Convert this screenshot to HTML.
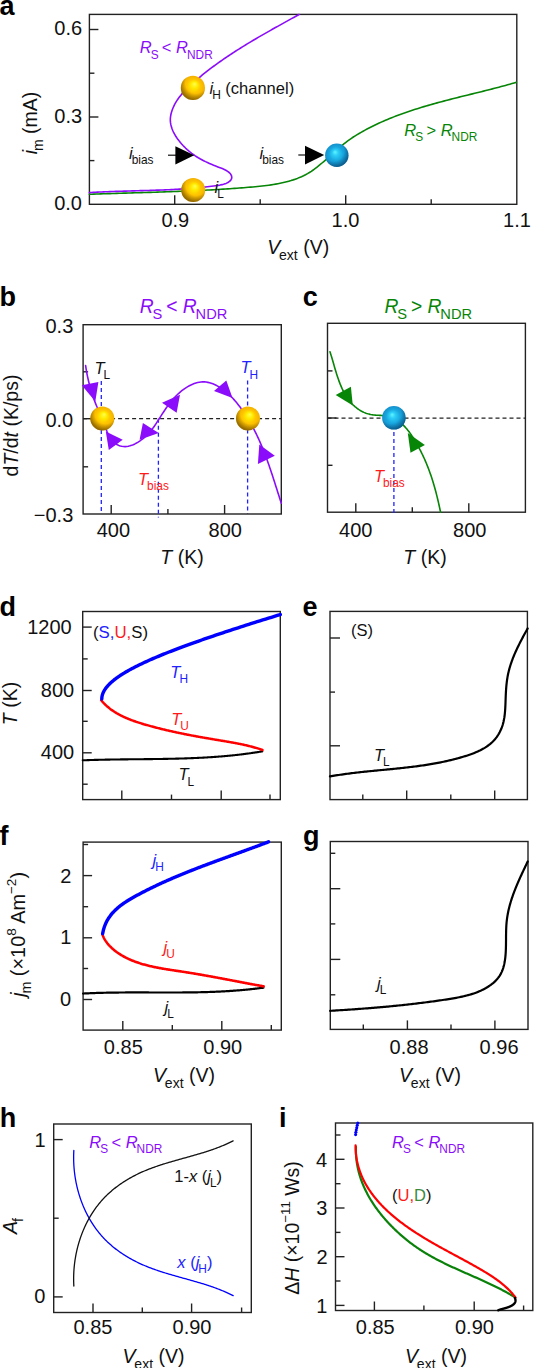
<!DOCTYPE html>
<html><head><meta charset="utf-8"><style>
html,body{margin:0;padding:0;background:#fff;}
svg{display:block;}
text{font-family:"Liberation Sans", sans-serif;}
</style></head><body>
<svg width="534" height="1368" viewBox="0 0 534 1368" font-family='"Liberation Sans", sans-serif'>
<rect width="534" height="1368" fill="#fff"/>
<defs>
<radialGradient id="gy" cx="0.5" cy="0.5" r="0.5" fx="0.58" fy="0.33">
<stop offset="0" stop-color="#ffff50"/>
<stop offset="0.28" stop-color="#ffea00"/>
<stop offset="0.55" stop-color="#ffc600"/>
<stop offset="1" stop-color="#f2b000"/>
</radialGradient>
<radialGradient id="gys" cx="0.62" cy="0.3" r="0.85">
<stop offset="0" stop-color="#3c2800" stop-opacity="0"/>
<stop offset="0.5" stop-color="#3c2800" stop-opacity="0"/>
<stop offset="0.8" stop-color="#3c2800" stop-opacity="0.5"/>
<stop offset="0.92" stop-color="#3c2800" stop-opacity="0.58"/>
<stop offset="1" stop-color="#3c2800" stop-opacity="0.35"/>
</radialGradient>
<radialGradient id="gb" cx="0.5" cy="0.5" r="0.5" fx="0.42" fy="0.36">
<stop offset="0" stop-color="#60f6ff"/>
<stop offset="0.25" stop-color="#2ccdf6"/>
<stop offset="0.6" stop-color="#18a6de"/>
<stop offset="1" stop-color="#1490cc"/>
</radialGradient>
<radialGradient id="gbs" cx="0.38" cy="0.32" r="0.85">
<stop offset="0" stop-color="#001838" stop-opacity="0"/>
<stop offset="0.5" stop-color="#001838" stop-opacity="0"/>
<stop offset="0.78" stop-color="#001838" stop-opacity="0.4"/>
<stop offset="1" stop-color="#001838" stop-opacity="0.55"/>
</radialGradient>
</defs>
<text x="-0.50" y="15.40" font-size="27.00" text-anchor="start" fill="#000" font-weight="bold" font-style="normal" >a</text>
<rect x="89.40" y="14.40" width="427.40" height="189.90" fill="none" stroke="#222" stroke-width="1.40"/>
<line x1="89.40" y1="29.50" x2="98.40" y2="29.50" stroke="#222" stroke-width="1.40"/>
<line x1="89.40" y1="73.20" x2="94.40" y2="73.20" stroke="#222" stroke-width="1.40"/>
<line x1="89.40" y1="117.00" x2="98.40" y2="117.00" stroke="#222" stroke-width="1.40"/>
<line x1="89.40" y1="160.60" x2="94.40" y2="160.60" stroke="#222" stroke-width="1.40"/>
<line x1="174.70" y1="204.30" x2="174.70" y2="195.30" stroke="#222" stroke-width="1.40"/>
<line x1="260.20" y1="204.30" x2="260.20" y2="199.30" stroke="#222" stroke-width="1.40"/>
<line x1="345.70" y1="204.30" x2="345.70" y2="195.30" stroke="#222" stroke-width="1.40"/>
<line x1="431.20" y1="204.30" x2="431.20" y2="199.30" stroke="#222" stroke-width="1.40"/>
<text x="54.28" y="35.38" font-size="20.00" text-anchor="start" fill="#111" font-weight="normal" font-style="normal" >0.6</text>
<text x="54.28" y="122.68" font-size="20.00" text-anchor="start" fill="#111" font-weight="normal" font-style="normal" >0.3</text>
<text x="54.18" y="209.73" font-size="20.00" text-anchor="start" fill="#111" font-weight="normal" font-style="normal" >0.0</text>
<text x="161.43" y="226.68" font-size="20.00" text-anchor="start" fill="#111" font-weight="normal" font-style="normal" >0.9</text>
<text x="331.53" y="226.68" font-size="20.00" text-anchor="start" fill="#111" font-weight="normal" font-style="normal" >1.0</text>
<text x="503.08" y="226.68" font-size="20.00" text-anchor="start" fill="#111" font-weight="normal" font-style="normal" >1.1</text>
<text x="267.20" y="253.70" font-size="19.50" fill="#111" text-anchor="start" ><tspan font-style="italic">V</tspan><tspan dx="-1.17" dy="6.04" font-size="14.04">ext</tspan><tspan dy="-6.04"> (V)</tspan></text>
<text x="0.00" y="0.00" font-size="19.50" fill="#111" text-anchor="middle" transform="translate(36.5,123) rotate(-90)"><tspan font-style="italic">i</tspan><tspan dx="-1.17" dy="6.04" font-size="14.04">m</tspan><tspan dy="-6.04"> (mA)</tspan></text>
<path d="M89.37,194.31 L91.65,194.22 L93.94,194.14 L96.23,194.06 L98.51,193.98 L100.79,193.90 L103.07,193.82 L105.35,193.74 L107.63,193.67 L109.91,193.59 L112.18,193.52 L114.46,193.45 L116.73,193.38 L119.01,193.31 L121.28,193.24 L123.55,193.17 L125.82,193.10 L128.09,193.03 L130.36,192.96 L132.63,192.89 L134.89,192.82 L137.16,192.76 L139.43,192.69 L141.69,192.62 L143.96,192.55 L146.22,192.48 L148.49,192.41 L150.75,192.34 L153.01,192.27 L155.28,192.19 L157.54,192.12 L159.80,192.05 L162.06,191.97 L164.33,191.89 L166.59,191.81 L168.85,191.73 L171.11,191.65 L173.37,191.57 L175.64,191.49 L177.90,191.40 L180.16,191.31 L182.42,191.22 L184.69,191.13 L186.95,191.04 L189.21,190.94 L191.48,190.84 L193.74,190.74 L196.01,190.63 L198.27,190.53 L200.54,190.42 L202.80,190.31 L205.07,190.19 L207.34,190.07 L209.60,189.95 L211.87,189.83 L214.14,189.70 L216.41,189.57 L218.68,189.43 L220.96,189.30 L223.23,189.15 L225.50,189.01 L227.78,188.86 L230.06,188.71 L232.33,188.55 L234.61,188.39 L236.89,188.22 L239.17,188.05 L241.45,187.88 L243.74,187.70 L246.02,187.51 L248.31,187.32 L250.60,187.13 L252.89,186.93 L255.18,186.72 L257.47,186.51 L259.75,186.28 L262.04,186.04 L264.32,185.78 L266.59,185.50 L268.86,185.20 L271.12,184.88 L273.38,184.53 L275.62,184.15 L277.86,183.75 L280.08,183.31 L282.30,182.84 L284.49,182.33 L286.68,181.78 L288.85,181.19 L291.00,180.56 L293.14,179.88 L295.26,179.15 L297.36,178.38 L299.44,177.55 L301.49,176.67 L303.53,175.72 L305.53,174.72 L307.50,173.65 L309.43,172.52 L311.32,171.31 L313.17,170.03 L314.98,168.69 L316.77,167.31 L318.53,165.90 L320.28,164.46 L322.02,163.01 L323.75,161.54 L325.47,160.07 L327.19,158.59 L328.90,157.10 L330.60,155.60 L332.29,154.10 L333.99,152.59 L335.67,151.08 L337.36,149.58 L339.04,148.08 L340.73,146.58 L342.44,145.12 L344.18,143.67 L345.94,142.27 L347.74,140.90 L349.57,139.58 L351.43,138.29 L353.32,137.04 L355.23,135.81 L357.17,134.62 L359.12,133.46 L361.09,132.32 L363.06,131.21 L365.05,130.12 L367.05,129.05 L369.06,128.00 L371.07,126.97 L373.10,125.96 L375.13,124.97 L377.18,124.00 L379.23,123.04 L381.29,122.11 L383.36,121.19 L385.44,120.30 L387.52,119.42 L389.61,118.55 L391.71,117.70 L393.82,116.87 L395.93,116.05 L398.05,115.25 L400.17,114.46 L402.30,113.69 L404.44,112.93 L406.59,112.18 L408.73,111.45 L410.89,110.73 L413.05,110.02 L415.21,109.32 L417.38,108.64 L419.55,107.96 L421.73,107.30 L423.91,106.64 L426.10,105.99 L428.29,105.36 L430.48,104.73 L432.67,104.11 L434.87,103.49 L437.07,102.89 L439.27,102.29 L441.48,101.70 L443.69,101.11 L445.90,100.53 L448.11,99.96 L450.32,99.39 L452.53,98.82 L454.75,98.26 L456.96,97.70 L459.18,97.14 L461.39,96.59 L463.61,96.04 L465.83,95.49 L468.04,94.94 L470.26,94.39 L472.47,93.85 L474.68,93.30 L476.90,92.75 L479.11,92.20 L481.32,91.66 L483.52,91.11 L485.73,90.55 L487.93,90.00 L490.13,89.44 L492.33,88.88 L494.53,88.31 L496.72,87.74 L498.91,87.17 L501.09,86.59 L503.27,86.00 L505.45,85.41 L507.62,84.82 L509.79,84.21 L511.96,83.60 L514.11,82.98 L516.27,82.36" fill="none" stroke="#078507" stroke-width="1.60" stroke-linecap="round" stroke-linejoin="round" />
<path d="M89.41,192.61 L91.42,192.49 L93.43,192.37 L95.45,192.26 L97.47,192.16 L99.50,192.06 L101.53,191.96 L103.56,191.87 L105.59,191.78 L107.63,191.70 L109.66,191.62 L111.70,191.54 L113.75,191.47 L115.79,191.40 L117.84,191.33 L119.88,191.26 L121.93,191.20 L123.98,191.14 L126.03,191.08 L128.08,191.02 L130.14,190.96 L132.19,190.90 L134.24,190.84 L136.30,190.78 L138.35,190.73 L140.41,190.67 L142.46,190.61 L144.51,190.55 L146.57,190.49 L148.62,190.43 L150.67,190.37 L152.72,190.30 L154.77,190.23 L156.82,190.16 L158.86,190.09 L160.91,190.01 L162.95,189.93 L164.99,189.85 L167.03,189.77 L169.07,189.68 L171.10,189.58 L173.13,189.48 L175.16,189.38 L177.19,189.27 L179.21,189.15 L181.23,189.03 L183.25,188.91 L185.26,188.78 L187.27,188.64 L189.28,188.49 L191.28,188.34 L193.28,188.18 L195.27,188.01 L197.26,187.84 L199.26,187.65 L201.26,187.46 L203.27,187.26 L205.30,187.04 L207.33,186.81 L209.39,186.57 L211.47,186.31 L213.57,186.04 L215.70,185.76 L217.85,185.45 L220.00,185.09 L222.12,184.65 L224.17,184.09 L226.11,183.38 L227.91,182.48 L229.52,181.37 L230.80,180.07 L231.60,178.63 L231.78,177.07 L231.41,175.51 L230.60,174.06 L229.44,172.75 L227.96,171.57 L226.24,170.50 L224.32,169.51 L222.25,168.59 L220.09,167.72 L217.88,166.88 L215.69,166.04 L213.55,165.19 L211.46,164.33 L209.43,163.46 L207.44,162.56 L205.51,161.65 L203.63,160.71 L201.80,159.75 L200.02,158.77 L198.27,157.75 L196.58,156.70 L194.92,155.62 L193.31,154.50 L191.73,153.34 L190.19,152.15 L188.69,150.91 L187.22,149.62 L185.79,148.29 L184.38,146.91 L183.01,145.48 L181.66,143.99 L180.35,142.45 L179.06,140.85 L177.81,139.19 L176.61,137.48 L175.48,135.73 L174.43,133.93 L173.47,132.09 L172.61,130.21 L171.87,128.30 L171.26,126.35 L170.79,124.38 L170.48,122.38 L170.33,120.36 L170.37,118.33 L170.58,116.28 L170.96,114.23 L171.48,112.20 L172.13,110.20 L172.89,108.23 L173.73,106.32 L174.65,104.47 L175.65,102.67 L176.71,100.92 L177.83,99.22 L179.01,97.57 L180.24,95.96 L181.53,94.39 L182.86,92.86 L184.23,91.36 L185.63,89.90 L187.07,88.45 L188.53,87.04 L190.02,85.64 L191.52,84.27 L193.04,82.90 L194.56,81.55 L196.10,80.22 L197.65,78.89 L199.21,77.58 L200.77,76.27 L202.35,74.98 L203.93,73.70 L205.52,72.44 L207.13,71.18 L208.74,69.93 L210.35,68.69 L211.98,67.47 L213.61,66.25 L215.25,65.05 L216.90,63.85 L218.56,62.66 L220.22,61.48 L221.89,60.31 L223.56,59.15 L225.25,58.00 L226.93,56.85 L228.63,55.72 L230.33,54.59 L232.03,53.47 L233.74,52.35 L235.46,51.25 L237.18,50.15 L238.91,49.06 L240.64,47.97 L242.37,46.89 L244.11,45.82 L245.85,44.75 L247.60,43.69 L249.35,42.63 L251.10,41.58 L252.86,40.54 L254.62,39.50 L256.38,38.46 L258.15,37.43 L259.92,36.40 L261.69,35.38 L263.46,34.36 L265.23,33.35 L267.01,32.34 L268.79,31.33 L270.56,30.32 L272.34,29.32 L274.12,28.32 L275.90,27.32 L277.68,26.33 L279.47,25.33 L281.25,24.34 L283.03,23.35 L284.81,22.36 L286.59,21.38 L288.37,20.39 L290.15,19.40 L291.92,18.42 L293.70,17.43 L295.48,16.45 L297.25,15.46 L299.02,14.48" fill="none" stroke="#8a0cfb" stroke-width="1.60" stroke-linecap="round" stroke-linejoin="round" />
<circle cx="192.90" cy="87.90" r="12.10" fill="url(#gy)"/>
<circle cx="192.90" cy="87.90" r="12.10" fill="url(#gys)"/>
<circle cx="193.20" cy="190.00" r="12.00" fill="url(#gy)"/>
<circle cx="193.20" cy="190.00" r="12.00" fill="url(#gys)"/>
<circle cx="336.80" cy="155.20" r="11.70" fill="url(#gb)"/>
<circle cx="336.80" cy="155.20" r="11.70" fill="url(#gbs)"/>
<line x1="168" y1="155.2" x2="177" y2="155.2" stroke="#111" stroke-width="1.2"/>
<polygon points="175.40,146.20 194.20,155.20 175.40,164.40" fill="#000"/>
<line x1="298.3" y1="155" x2="307" y2="155" stroke="#111" stroke-width="1.2"/>
<polygon points="305.00,145.80 324.20,155.00 305.00,164.60" fill="#000"/>
<text x="139.70" y="53.40" font-size="16.50" fill="#8a0cfb" text-anchor="start" ><tspan font-style="italic">R</tspan><tspan dx="-0.99" dy="5.12" font-size="11.88">S</tspan><tspan dy="-5.12"> &lt; </tspan><tspan font-style="italic">R</tspan><tspan dx="-0.99" dy="5.12" font-size="11.88">NDR</tspan></text>
<text x="209.50" y="94.30" font-size="16.50" fill="#111" text-anchor="start" ><tspan font-style="italic">i</tspan><tspan dx="-0.99" dy="5.12" font-size="11.88">H</tspan><tspan dy="-5.12"> (channel)</tspan></text>
<text x="129.00" y="158.70" font-size="16.50" fill="#111" text-anchor="start" ><tspan font-style="italic">i</tspan><tspan dx="-0.99" dy="5.12" font-size="11.88">bias</tspan></text>
<text x="259.50" y="159.20" font-size="16.50" fill="#111" text-anchor="start" ><tspan font-style="italic">i</tspan><tspan dx="-0.99" dy="5.12" font-size="11.88">bias</tspan></text>
<text x="214.50" y="192.70" font-size="16.50" fill="#111" text-anchor="start" ><tspan font-style="italic">i</tspan><tspan dx="-0.99" dy="5.12" font-size="11.88">L</tspan></text>
<text x="404.30" y="136.10" font-size="16.50" fill="#078507" text-anchor="start" ><tspan font-style="italic">R</tspan><tspan dx="-0.99" dy="5.12" font-size="11.88">S</tspan><tspan dy="-5.12"> &gt; </tspan><tspan font-style="italic">R</tspan><tspan dx="-0.99" dy="5.12" font-size="11.88">NDR</tspan></text>
<text x="-0.50" y="306.20" font-size="27.00" text-anchor="start" fill="#000" font-weight="bold" font-style="normal" >b</text>
<line x1="83.10" y1="418.70" x2="281.30" y2="418.70" stroke="#222" stroke-width="1.25" stroke-dasharray="4,3"/>
<line x1="101.30" y1="381.00" x2="101.30" y2="514.00" stroke="#2222ff" stroke-width="1.30" stroke-dasharray="4,3"/>
<line x1="247.60" y1="380.60" x2="247.60" y2="514.00" stroke="#2222ff" stroke-width="1.30" stroke-dasharray="4,3"/>
<rect x="83.10" y="324.70" width="198.20" height="189.30" fill="none" stroke="#222" stroke-width="1.40"/>
<line x1="158.40" y1="418.70" x2="158.40" y2="517.50" stroke="#2222ff" stroke-width="1.30" stroke-dasharray="4,3"/>
<line x1="83.10" y1="371.80" x2="88.10" y2="371.80" stroke="#222" stroke-width="1.40"/>
<line x1="83.10" y1="418.70" x2="92.10" y2="418.70" stroke="#222" stroke-width="1.40"/>
<line x1="83.10" y1="466.80" x2="88.10" y2="466.80" stroke="#222" stroke-width="1.40"/>
<line x1="111.20" y1="514.00" x2="111.20" y2="505.00" stroke="#222" stroke-width="1.40"/>
<line x1="167.90" y1="514.00" x2="167.90" y2="509.00" stroke="#222" stroke-width="1.40"/>
<line x1="224.60" y1="514.00" x2="224.60" y2="505.00" stroke="#222" stroke-width="1.40"/>
<text x="45.48" y="333.18" font-size="20.00" text-anchor="start" fill="#111" font-weight="normal" font-style="normal" >0.3</text>
<text x="45.38" y="427.23" font-size="20.00" text-anchor="start" fill="#111" font-weight="normal" font-style="normal" >0.0</text>
<text x="33.80" y="521.63" font-size="20.00" text-anchor="start" fill="#111" font-weight="normal" font-style="normal" >−0.3</text>
<text x="96.68" y="536.63" font-size="20.00" text-anchor="start" fill="#111" font-weight="normal" font-style="normal" >400</text>
<text x="208.52" y="536.63" font-size="20.00" text-anchor="start" fill="#111" font-weight="normal" font-style="normal" >800</text>
<text x="182.00" y="563.90" font-size="19.50" fill="#111" text-anchor="middle" ><tspan font-style="italic">T</tspan><tspan> (K)</tspan></text>
<text x="0.00" y="0.00" font-size="19.50" fill="#111" text-anchor="middle" transform="translate(17.5,425.5) rotate(-90)"><tspan>d</tspan><tspan font-style="italic">T</tspan><tspan>/d</tspan><tspan font-style="italic">t</tspan><tspan> (K/ps)</tspan></text>
<path d="M85.62,365.57 L85.87,367.31 L86.14,369.05 L86.43,370.79 L86.75,372.54 L87.08,374.29 L87.43,376.04 L87.80,377.78 L88.18,379.53 L88.59,381.27 L89.01,383.01 L89.46,384.74 L89.91,386.47 L90.39,388.19 L90.89,389.90 L91.40,391.60 L91.92,393.28 L92.47,394.96 L93.03,396.62 L93.60,398.27 L94.20,399.90 L94.80,401.51 L95.43,403.11 L96.06,404.69 L96.72,406.25 L97.38,407.79 L98.05,409.33 L98.73,410.88 L99.41,412.43 L100.09,414.01 L100.77,415.62 L101.45,417.26 L102.11,418.95 L102.77,420.68 L103.43,422.44 L104.10,424.22 L104.77,426.00 L105.47,427.78 L106.18,429.55 L106.93,431.29 L107.71,432.99 L108.54,434.64 L109.41,436.24 L110.33,437.75 L111.32,439.19 L112.37,440.53 L113.49,441.76 L114.68,442.88 L115.96,443.86 L117.33,444.71 L118.78,445.40 L120.29,445.94 L121.85,446.32 L123.45,446.54 L125.06,446.58 L126.69,446.47 L128.33,446.22 L129.98,445.82 L131.63,445.30 L133.27,444.65 L134.90,443.90 L136.52,443.04 L138.12,442.09 L139.70,441.06 L141.24,439.95 L142.75,438.77 L144.22,437.54 L145.64,436.26 L147.01,434.94 L148.32,433.60 L149.58,432.23 L150.76,430.85 L151.89,429.46 L152.96,428.07 L153.98,426.66 L154.97,425.25 L155.93,423.83 L156.86,422.40 L157.78,420.96 L158.70,419.52 L159.62,418.06 L160.55,416.60 L161.48,415.13 L162.43,413.67 L163.39,412.20 L164.37,410.73 L165.36,409.28 L166.36,407.82 L167.39,406.38 L168.44,404.95 L169.50,403.54 L170.60,402.14 L171.72,400.76 L172.87,399.41 L174.04,398.08 L175.25,396.77 L176.49,395.50 L177.76,394.25 L179.07,393.04 L180.42,391.87 L181.81,390.74 L183.24,389.64 L184.71,388.59 L186.22,387.59 L187.77,386.65 L189.35,385.77 L190.96,384.96 L192.59,384.24 L194.25,383.59 L195.92,383.04 L197.61,382.59 L199.31,382.24 L201.02,382.01 L202.73,381.90 L204.44,381.92 L206.15,382.07 L207.85,382.35 L209.54,382.75 L211.21,383.25 L212.86,383.85 L214.48,384.53 L216.08,385.29 L217.65,386.11 L219.18,386.99 L220.68,387.92 L222.14,388.90 L223.58,389.94 L224.98,391.01 L226.35,392.14 L227.70,393.30 L229.01,394.50 L230.30,395.73 L231.56,397.00 L232.79,398.30 L234.00,399.63 L235.18,400.98 L236.34,402.35 L237.48,403.74 L238.59,405.14 L239.68,406.57 L240.75,408.00 L241.80,409.44 L242.83,410.89 L243.84,412.35 L244.83,413.82 L245.80,415.30 L246.75,416.79 L247.69,418.28 L248.61,419.79 L249.50,421.30 L250.39,422.82 L251.25,424.35 L252.10,425.89 L252.94,427.43 L253.76,428.98 L254.56,430.54 L255.35,432.11 L256.13,433.68 L256.89,435.26 L257.64,436.84 L258.38,438.43 L259.10,440.03 L259.81,441.63 L260.51,443.24 L261.20,444.85 L261.88,446.47 L262.54,448.10 L263.20,449.73 L263.85,451.36 L264.49,453.00 L265.12,454.64 L265.74,456.29 L266.35,457.94 L266.96,459.59 L267.55,461.25 L268.15,462.91 L268.73,464.57 L269.31,466.24 L269.88,467.91 L270.45,469.58 L271.01,471.25 L271.57,472.93 L272.13,474.61 L272.68,476.29 L273.23,477.97 L273.77,479.65 L274.31,481.33 L274.85,483.02 L275.39,484.70 L275.93,486.39 L276.47,488.08 L277.00,489.76 L277.54,491.45 L278.08,493.14 L278.61,494.82 L279.15,496.51 L279.69,498.19 L280.24,499.88 L280.78,501.56 L281.33,503.24" fill="none" stroke="#8a0cfb" stroke-width="1.60" stroke-linecap="round" stroke-linejoin="round" />
<polygon points="81.80,385.20 98.40,382.00 95.30,401.60" fill="#8a0cfb"/>
<polygon points="105.80,431.50 122.70,439.80 108.80,449.90" fill="#8a0cfb"/>
<polygon points="142.90,422.90 158.70,433.00 139.60,439.80" fill="#8a0cfb"/>
<polygon points="162.00,402.70 176.60,412.80 180.00,394.80" fill="#8a0cfb"/>
<polygon points="214.00,390.90 226.30,380.60 232.50,398.10" fill="#8a0cfb"/>
<polygon points="259.30,444.50 257.90,464.00 274.80,455.80" fill="#8a0cfb"/>
<circle cx="102.30" cy="418.40" r="12.00" fill="url(#gy)"/>
<circle cx="102.30" cy="418.40" r="12.00" fill="url(#gys)"/>
<circle cx="248.00" cy="418.40" r="12.00" fill="url(#gy)"/>
<circle cx="248.00" cy="418.40" r="12.00" fill="url(#gys)"/>
<text x="139.80" y="313.30" font-size="19.30" fill="#8a0cfb" text-anchor="start" ><tspan font-style="italic">R</tspan><tspan dx="-1.16" dy="5.98" font-size="14.67">S</tspan><tspan dy="-5.98"> &lt; </tspan><tspan font-style="italic">R</tspan><tspan dx="-1.16" dy="5.98" font-size="14.67">NDR</tspan></text>
<text x="94.50" y="374.30" font-size="16.50" fill="#111" text-anchor="start" ><tspan font-style="italic">T</tspan><tspan dx="-0.99" dy="5.12" font-size="11.88">L</tspan></text>
<text x="240.50" y="373.40" font-size="16.50" fill="#2222ff" text-anchor="start" ><tspan font-style="italic">T</tspan><tspan dx="-0.99" dy="5.12" font-size="11.88">H</tspan></text>
<text x="138.00" y="484.90" font-size="16.50" fill="#ff1a1a" text-anchor="start" ><tspan font-style="italic">T</tspan><tspan dx="-0.99" dy="5.12" font-size="11.88">bias</tspan></text>
<text x="302.80" y="306.20" font-size="27.00" text-anchor="start" fill="#000" font-weight="bold" font-style="normal" >c</text>
<line x1="327.50" y1="418.00" x2="525.40" y2="418.00" stroke="#222" stroke-width="1.25" stroke-dasharray="4,3"/>
<rect x="327.50" y="323.30" width="197.90" height="188.90" fill="none" stroke="#222" stroke-width="1.40"/>
<line x1="393.90" y1="418.00" x2="393.90" y2="514.50" stroke="#2222ff" stroke-width="1.30" stroke-dasharray="4,3"/>
<line x1="327.50" y1="370.90" x2="332.50" y2="370.90" stroke="#222" stroke-width="1.40"/>
<line x1="327.50" y1="418.00" x2="336.50" y2="418.00" stroke="#222" stroke-width="1.40"/>
<line x1="327.50" y1="465.30" x2="332.50" y2="465.30" stroke="#222" stroke-width="1.40"/>
<line x1="355.80" y1="512.20" x2="355.80" y2="503.20" stroke="#222" stroke-width="1.40"/>
<line x1="412.30" y1="512.20" x2="412.30" y2="507.20" stroke="#222" stroke-width="1.40"/>
<line x1="468.80" y1="512.20" x2="468.80" y2="503.20" stroke="#222" stroke-width="1.40"/>
<text x="339.08" y="536.68" font-size="20.00" text-anchor="start" fill="#111" font-weight="normal" font-style="normal" >400</text>
<text x="453.02" y="536.68" font-size="20.00" text-anchor="start" fill="#111" font-weight="normal" font-style="normal" >800</text>
<text x="425.00" y="563.90" font-size="19.50" fill="#111" text-anchor="middle" ><tspan font-style="italic">T</tspan><tspan> (K)</tspan></text>
<path d="M329.99,351.86 L330.29,352.79 L330.60,353.73 L330.90,354.68 L331.19,355.64 L331.49,356.60 L331.78,357.58 L332.08,358.56 L332.37,359.55 L332.66,360.55 L332.95,361.56 L333.24,362.57 L333.53,363.58 L333.83,364.60 L334.12,365.63 L334.42,366.65 L334.72,367.68 L335.02,368.72 L335.33,369.75 L335.64,370.79 L335.95,371.83 L336.27,372.87 L336.59,373.90 L336.92,374.94 L337.26,375.98 L337.60,377.01 L337.95,378.05 L338.30,379.08 L338.67,380.10 L339.04,381.13 L339.42,382.15 L339.81,383.16 L340.21,384.17 L340.62,385.17 L341.03,386.17 L341.46,387.16 L341.90,388.14 L342.35,389.12 L342.82,390.08 L343.29,391.04 L343.78,391.99 L344.28,392.93 L344.80,393.85 L345.33,394.77 L345.87,395.67 L346.43,396.57 L347.01,397.45 L347.60,398.31 L348.20,399.17 L348.83,400.00 L349.46,400.83 L350.12,401.64 L350.80,402.43 L351.49,403.21 L352.20,403.97 L352.93,404.71 L353.68,405.43 L354.45,406.13 L355.23,406.82 L356.04,407.48 L356.85,408.12 L357.69,408.74 L358.54,409.34 L359.41,409.91 L360.29,410.45 L361.19,410.97 L362.11,411.47 L363.04,411.93 L363.98,412.37 L364.94,412.78 L365.92,413.16 L366.90,413.50 L367.90,413.82 L368.92,414.10 L369.95,414.36 L370.99,414.57 L372.04,414.75 L373.11,414.90 L374.18,415.02 L375.26,415.11 L376.35,415.18 L377.44,415.24 L378.53,415.30 L379.62,415.36 L380.70,415.42 L381.78,415.50 L382.84,415.60 L383.89,415.73 L384.92,415.88 L385.94,416.07 L386.95,416.28 L387.94,416.52 L388.92,416.79 L389.89,417.08 L390.84,417.40 L391.78,417.76 L392.70,418.13 L393.61,418.54 L394.51,418.97 L395.39,419.43 L396.26,419.91 L397.12,420.42 L397.96,420.95 L398.80,421.51 L399.61,422.10 L400.42,422.71 L401.21,423.35 L401.99,424.01 L402.75,424.70 L403.51,425.41 L404.25,426.14 L404.97,426.90 L405.69,427.68 L406.39,428.48 L407.09,429.29 L407.77,430.13 L408.44,430.98 L409.09,431.85 L409.74,432.73 L410.38,433.63 L411.01,434.53 L411.63,435.45 L412.23,436.37 L412.83,437.30 L413.42,438.23 L414.00,439.17 L414.58,440.11 L415.14,441.05 L415.70,441.99 L416.25,442.93 L416.79,443.87 L417.32,444.81 L417.85,445.75 L418.37,446.69 L418.88,447.64 L419.38,448.58 L419.88,449.52 L420.37,450.46 L420.85,451.41 L421.33,452.35 L421.79,453.30 L422.26,454.24 L422.71,455.19 L423.16,456.14 L423.60,457.08 L424.04,458.03 L424.47,458.98 L424.89,459.93 L425.31,460.89 L425.72,461.84 L426.12,462.80 L426.52,463.75 L426.92,464.71 L427.30,465.67 L427.69,466.63 L428.06,467.59 L428.43,468.55 L428.80,469.52 L429.16,470.49 L429.52,471.45 L429.87,472.42 L430.21,473.40 L430.55,474.37 L430.89,475.35 L431.22,476.32 L431.55,477.30 L431.87,478.28 L432.19,479.27 L432.50,480.26 L432.81,481.24 L433.11,482.23 L433.41,483.23 L433.71,484.22 L434.00,485.22 L434.29,486.22 L434.58,487.23 L434.86,488.23 L435.14,489.24 L435.42,490.25 L435.69,491.27 L435.96,492.28 L436.22,493.30 L436.48,494.33 L436.74,495.35 L437.00,496.38 L437.25,497.41 L437.50,498.45 L437.75,499.49 L438.00,500.53 L438.24,501.58 L438.48,502.63 L438.72,503.68 L438.96,504.73 L439.20,505.79 L439.43,506.86 L439.66,507.92 L439.89,508.99 L440.12,510.07 L440.34,511.15 L440.57,512.23" fill="none" stroke="#078507" stroke-width="1.60" stroke-linecap="round" stroke-linejoin="round" />
<polygon points="335.70,395.10 350.90,386.70 352.80,405.50" fill="#078507"/>
<polygon points="410.50,452.70 424.90,444.90 407.80,433.10" fill="#078507"/>
<circle cx="393.90" cy="417.80" r="11.80" fill="url(#gb)"/>
<circle cx="393.90" cy="417.80" r="11.80" fill="url(#gbs)"/>
<text x="384.50" y="313.10" font-size="19.30" fill="#078507" text-anchor="start" ><tspan font-style="italic">R</tspan><tspan dx="-1.16" dy="5.98" font-size="14.67">S</tspan><tspan dy="-5.98"> &gt; </tspan><tspan font-style="italic">R</tspan><tspan dx="-1.16" dy="5.98" font-size="14.67">NDR</tspan></text>
<text x="373.90" y="481.50" font-size="16.50" fill="#ff1a1a" text-anchor="start" ><tspan font-style="italic">T</tspan><tspan dx="-0.99" dy="5.12" font-size="11.88">bias</tspan></text>
<text x="-0.50" y="615.70" font-size="27.00" text-anchor="start" fill="#000" font-weight="bold" font-style="normal" >d</text>
<rect x="82.70" y="611.50" width="197.60" height="188.10" fill="none" stroke="#222" stroke-width="1.40"/>
<line x1="82.70" y1="627.10" x2="91.70" y2="627.10" stroke="#222" stroke-width="1.40"/>
<line x1="82.70" y1="658.90" x2="87.70" y2="658.90" stroke="#222" stroke-width="1.40"/>
<line x1="82.70" y1="690.50" x2="91.70" y2="690.50" stroke="#222" stroke-width="1.40"/>
<line x1="82.70" y1="721.30" x2="87.70" y2="721.30" stroke="#222" stroke-width="1.40"/>
<line x1="82.70" y1="752.80" x2="91.70" y2="752.80" stroke="#222" stroke-width="1.40"/>
<line x1="82.70" y1="784.20" x2="87.70" y2="784.20" stroke="#222" stroke-width="1.40"/>
<line x1="121.80" y1="799.60" x2="121.80" y2="790.60" stroke="#222" stroke-width="1.40"/>
<line x1="171.50" y1="799.60" x2="171.50" y2="794.60" stroke="#222" stroke-width="1.40"/>
<line x1="221.20" y1="799.60" x2="221.20" y2="790.60" stroke="#222" stroke-width="1.40"/>
<line x1="270.00" y1="799.60" x2="270.00" y2="794.60" stroke="#222" stroke-width="1.40"/>
<text x="27.19" y="634.13" font-size="20.00" text-anchor="start" fill="#111" font-weight="normal" font-style="normal" >1200</text>
<text x="40.81" y="696.58" font-size="20.00" text-anchor="start" fill="#111" font-weight="normal" font-style="normal" >800</text>
<text x="40.81" y="759.43" font-size="20.00" text-anchor="start" fill="#111" font-weight="normal" font-style="normal" >400</text>
<text x="0.00" y="0.00" font-size="19.50" fill="#111" text-anchor="middle" transform="translate(16.5,703.5) rotate(-90)"><tspan font-style="italic">T</tspan><tspan> (K)</tspan></text>
<path d="M82.71,760.32 L83.61,760.29 L84.51,760.25 L85.41,760.22 L86.31,760.19 L87.21,760.15 L88.11,760.12 L89.01,760.09 L89.91,760.06 L90.81,760.03 L91.72,760.00 L92.62,759.98 L93.52,759.95 L94.42,759.92 L95.32,759.90 L96.22,759.87 L97.13,759.85 L98.03,759.83 L98.93,759.80 L99.83,759.78 L100.74,759.76 L101.64,759.74 L102.54,759.72 L103.44,759.70 L104.35,759.68 L105.25,759.66 L106.15,759.65 L107.06,759.63 L107.96,759.61 L108.87,759.59 L109.77,759.58 L110.67,759.56 L111.58,759.55 L112.48,759.53 L113.39,759.52 L114.29,759.50 L115.19,759.49 L116.10,759.48 L117.00,759.46 L117.91,759.45 L118.81,759.44 L119.72,759.43 L120.62,759.42 L121.53,759.41 L122.43,759.39 L123.34,759.38 L124.24,759.37 L125.15,759.36 L126.05,759.35 L126.96,759.34 L127.87,759.33 L128.77,759.32 L129.68,759.31 L130.58,759.30 L131.49,759.29 L132.39,759.29 L133.30,759.28 L134.21,759.27 L135.11,759.26 L136.02,759.25 L136.92,759.24 L137.83,759.23 L138.74,759.22 L139.64,759.21 L140.55,759.20 L141.45,759.20 L142.36,759.19 L143.27,759.18 L144.17,759.17 L145.08,759.16 L145.98,759.15 L146.89,759.14 L147.80,759.13 L148.70,759.12 L149.61,759.11 L150.52,759.10 L151.42,759.09 L152.33,759.08 L153.24,759.06 L154.14,759.05 L155.05,759.04 L155.95,759.03 L156.86,759.02 L157.77,759.00 L158.67,758.99 L159.58,758.98 L160.49,758.96 L161.39,758.95 L162.30,758.94 L163.20,758.92 L164.11,758.91 L165.02,758.89 L165.92,758.87 L166.83,758.86 L167.74,758.84 L168.64,758.82 L169.55,758.80 L170.45,758.79 L171.36,758.77 L172.27,758.75 L173.17,758.73 L174.08,758.70 L174.98,758.68 L175.89,758.66 L176.79,758.64 L177.70,758.61 L178.60,758.59 L179.51,758.57 L180.42,758.54 L181.32,758.51 L182.23,758.49 L183.13,758.46 L184.04,758.43 L184.94,758.40 L185.85,758.37 L186.75,758.34 L187.66,758.31 L188.56,758.28 L189.47,758.24 L190.37,758.21 L191.27,758.17 L192.18,758.14 L193.08,758.10 L193.99,758.06 L194.89,758.02 L195.80,757.98 L196.70,757.94 L197.60,757.90 L198.51,757.86 L199.41,757.82 L200.31,757.77 L201.22,757.72 L202.12,757.68 L203.02,757.63 L203.93,757.58 L204.83,757.53 L205.73,757.48 L206.63,757.43 L207.54,757.37 L208.44,757.32 L209.34,757.26 L210.24,757.21 L211.15,757.15 L212.05,757.09 L212.95,757.03 L213.85,756.97 L214.75,756.90 L215.65,756.84 L216.55,756.77 L217.45,756.71 L218.36,756.64 L219.26,756.57 L220.16,756.50 L221.06,756.43 L221.96,756.35 L222.86,756.28 L223.76,756.20 L224.66,756.12 L225.56,756.04 L226.45,755.96 L227.35,755.88 L228.25,755.80 L229.15,755.71 L230.05,755.62 L230.95,755.53 L231.85,755.44 L232.74,755.35 L233.64,755.26 L234.54,755.17 L235.44,755.07 L236.33,754.97 L237.23,754.87 L238.13,754.77 L239.02,754.67 L239.92,754.56 L240.82,754.46 L241.71,754.35 L242.61,754.24 L243.50,754.13 L244.40,754.01 L245.30,753.90 L246.19,753.78 L247.08,753.66 L247.98,753.54 L248.87,753.42 L249.77,753.30 L250.66,753.17 L251.55,753.04 L252.45,752.91 L253.34,752.78 L254.23,752.65 L255.13,752.51 L256.02,752.38 L256.91,752.24 L257.80,752.10 L258.69,751.95 L259.59,751.81 L260.48,751.66 L261.37,751.51 L262.26,751.36" fill="none" stroke="#000" stroke-width="2.10" stroke-linecap="round" stroke-linejoin="round" />
<path d="M101.17,700.12 L101.70,700.78 L102.25,701.43 L102.80,702.07 L103.37,702.69 L103.94,703.31 L104.53,703.91 L105.12,704.50 L105.73,705.08 L106.34,705.65 L106.96,706.22 L107.59,706.77 L108.23,707.31 L108.88,707.84 L109.54,708.36 L110.20,708.88 L110.87,709.38 L111.55,709.88 L112.24,710.36 L112.93,710.84 L113.63,711.31 L114.34,711.77 L115.06,712.22 L115.78,712.66 L116.50,713.10 L117.24,713.53 L117.98,713.95 L118.72,714.36 L119.48,714.76 L120.23,715.16 L121.00,715.55 L121.76,715.93 L122.54,716.31 L123.31,716.68 L124.10,717.04 L124.88,717.40 L125.67,717.75 L126.47,718.10 L127.27,718.44 L128.07,718.77 L128.88,719.10 L129.69,719.42 L130.50,719.73 L131.32,720.05 L132.14,720.35 L132.96,720.65 L133.79,720.95 L134.62,721.24 L135.45,721.53 L136.28,721.81 L137.11,722.09 L137.95,722.37 L138.78,722.64 L139.62,722.91 L140.46,723.17 L141.30,723.43 L142.15,723.69 L142.99,723.94 L143.83,724.20 L144.68,724.44 L145.52,724.69 L146.37,724.93 L147.21,725.17 L148.05,725.41 L148.90,725.65 L149.74,725.88 L150.58,726.12 L151.42,726.35 L152.27,726.58 L153.11,726.80 L153.95,727.03 L154.79,727.25 L155.63,727.47 L156.47,727.69 L157.31,727.91 L158.15,728.12 L158.99,728.33 L159.83,728.54 L160.67,728.75 L161.51,728.96 L162.35,729.17 L163.19,729.37 L164.03,729.57 L164.87,729.77 L165.71,729.97 L166.55,730.17 L167.39,730.37 L168.23,730.56 L169.06,730.75 L169.90,730.94 L170.74,731.13 L171.58,731.32 L172.42,731.51 L173.26,731.69 L174.10,731.88 L174.94,732.06 L175.77,732.24 L176.61,732.42 L177.45,732.60 L178.29,732.78 L179.13,732.95 L179.97,733.13 L180.81,733.30 L181.65,733.47 L182.49,733.64 L183.32,733.81 L184.16,733.98 L185.00,734.15 L185.84,734.32 L186.68,734.48 L187.52,734.65 L188.37,734.81 L189.21,734.97 L190.05,735.13 L190.89,735.30 L191.73,735.45 L192.57,735.61 L193.41,735.77 L194.26,735.93 L195.10,736.09 L195.94,736.24 L196.79,736.40 L197.63,736.55 L198.47,736.70 L199.32,736.86 L200.16,737.01 L201.01,737.16 L201.85,737.31 L202.70,737.46 L203.55,737.61 L204.39,737.76 L205.24,737.91 L206.09,738.06 L206.94,738.20 L207.78,738.35 L208.63,738.50 L209.48,738.64 L210.33,738.79 L211.18,738.93 L212.04,739.08 L212.89,739.23 L213.74,739.37 L214.59,739.51 L215.45,739.66 L216.30,739.80 L217.16,739.95 L218.01,740.09 L218.87,740.23 L219.72,740.38 L220.58,740.52 L221.44,740.66 L222.30,740.81 L223.16,740.95 L224.02,741.10 L224.88,741.24 L225.74,741.38 L226.60,741.53 L227.46,741.68 L228.32,741.82 L229.17,741.97 L230.03,742.12 L230.89,742.27 L231.75,742.43 L232.61,742.58 L233.47,742.73 L234.32,742.89 L235.18,743.05 L236.04,743.21 L236.89,743.37 L237.74,743.54 L238.60,743.70 L239.45,743.87 L240.30,744.05 L241.15,744.22 L241.99,744.40 L242.84,744.58 L243.68,744.76 L244.53,744.94 L245.37,745.13 L246.21,745.32 L247.04,745.52 L247.88,745.72 L248.71,745.92 L249.54,746.13 L250.37,746.34 L251.20,746.55 L252.02,746.77 L252.84,746.99 L253.66,747.21 L254.48,747.44 L255.29,747.68 L256.10,747.92 L256.91,748.16 L257.72,748.41 L258.52,748.66 L259.32,748.92 L260.11,749.18 L260.90,749.45 L261.69,749.73 L262.48,750.01" fill="none" stroke="#ff0000" stroke-width="2.50" stroke-linecap="round" stroke-linejoin="round" />
<path d="M101.80,699.00 L101.81,698.40 L101.85,697.80 L101.91,697.19 L102.00,696.59 L102.12,695.99 L102.25,695.38 L102.42,694.78 L102.61,694.18 L102.82,693.57 L103.06,692.97 L103.33,692.36 L103.62,691.76 L103.93,691.15 L104.27,690.54 L104.64,689.94 L105.03,689.33 L105.44,688.72 L105.88,688.11 L106.35,687.50 L106.84,686.89 L107.36,686.28 L107.90,685.66 L108.47,685.05 L109.06,684.43 L109.68,683.82 L110.32,683.20 L110.99,682.58 L111.68,681.96 L112.40,681.34 L113.14,680.71 L113.91,680.09 L114.71,679.46 L115.53,678.84 L116.37,678.21 L117.24,677.58 L118.14,676.95 L119.06,676.31 L120.00,675.68 L120.97,675.04 L121.97,674.40 L122.99,673.76 L124.04,673.12 L125.11,672.48 L126.20,671.83 L127.33,671.18 L128.47,670.53 L129.64,669.88 L130.84,669.22 L132.06,668.57 L133.31,667.91 L134.59,667.25 L135.88,666.58 L137.21,665.92 L138.56,665.25 L139.93,664.58 L141.33,663.91 L142.75,663.23 L144.20,662.55 L145.68,661.87 L147.18,661.19 L148.70,660.50 L150.25,659.81 L151.83,659.12 L153.43,658.42 L155.06,657.73 L156.71,657.03 L158.38,656.32 L160.09,655.62 L161.81,654.91 L163.56,654.19 L165.34,653.48 L167.14,652.76 L168.97,652.04 L170.83,651.31 L172.70,650.58 L174.61,649.85 L176.54,649.11 L178.49,648.37 L180.47,647.63 L182.47,646.88 L184.50,646.13 L186.56,645.38 L188.64,644.62 L190.74,643.86 L192.87,643.10 L195.03,642.33 L197.21,641.56 L199.41,640.78 L201.64,640.00 L203.90,639.21 L206.18,638.43 L208.49,637.63 L210.82,636.84 L213.18,636.04 L215.56,635.23 L217.97,634.42 L220.40,633.61 L222.86,632.79 L225.34,631.97 L227.85,631.14 L230.38,630.31 L232.94,629.47 L235.53,628.63 L238.14,627.78 L240.77,626.93 L243.43,626.08 L246.12,625.22 L248.83,624.36 L251.56,623.49 L254.32,622.61 L257.11,621.73 L259.92,620.85 L262.75,619.96 L265.62,619.07 L268.50,618.17 L271.41,617.26 L274.35,616.35 L277.31,615.44 L280.30,614.52" fill="none" stroke="#0000ff" stroke-width="3.40" stroke-linecap="round" stroke-linejoin="round" />
<text x="93.00" y="637.60" font-size="16.80" fill="#111" text-anchor="start" ><tspan>(</tspan><tspan fill="#2222ff">S</tspan><tspan fill="#2222ff">,</tspan><tspan fill="#ff1a1a">U</tspan><tspan fill="#ff1a1a">,</tspan><tspan>S</tspan><tspan>)</tspan></text>
<text x="170.30" y="678.30" font-size="16.50" fill="#2222ff" text-anchor="start" ><tspan font-style="italic">T</tspan><tspan dx="-0.99" dy="5.12" font-size="11.88">H</tspan></text>
<text x="171.20" y="724.80" font-size="16.50" fill="#ff1a1a" text-anchor="start" ><tspan font-style="italic">T</tspan><tspan dx="-0.99" dy="5.12" font-size="11.88">U</tspan></text>
<text x="178.50" y="780.40" font-size="16.50" fill="#111" text-anchor="start" ><tspan font-style="italic">T</tspan><tspan dx="-0.99" dy="5.12" font-size="11.88">L</tspan></text>
<text x="302.50" y="615.70" font-size="27.00" text-anchor="start" fill="#000" font-weight="bold" font-style="normal" >e</text>
<rect x="330.00" y="611.40" width="197.40" height="188.20" fill="none" stroke="#222" stroke-width="1.40"/>
<line x1="330.00" y1="638.00" x2="340.00" y2="638.00" stroke="#222" stroke-width="1.40"/>
<line x1="330.00" y1="692.10" x2="335.00" y2="692.10" stroke="#222" stroke-width="1.40"/>
<line x1="330.00" y1="745.80" x2="340.00" y2="745.80" stroke="#222" stroke-width="1.40"/>
<line x1="362.80" y1="799.60" x2="362.80" y2="794.60" stroke="#222" stroke-width="1.40"/>
<line x1="406.70" y1="799.60" x2="406.70" y2="790.60" stroke="#222" stroke-width="1.40"/>
<line x1="450.80" y1="799.60" x2="450.80" y2="794.60" stroke="#222" stroke-width="1.40"/>
<line x1="494.70" y1="799.60" x2="494.70" y2="790.60" stroke="#222" stroke-width="1.40"/>
<text x="351.00" y="635.50" font-size="16.50" fill="#111" text-anchor="start" ><tspan>(S)</tspan></text>
<path d="M329.95,776.40 L331.41,776.14 L332.87,775.90 L334.33,775.66 L335.79,775.42 L337.25,775.19 L338.71,774.97 L340.16,774.75 L341.62,774.54 L343.07,774.33 L344.52,774.13 L345.98,773.93 L347.43,773.73 L348.88,773.55 L350.33,773.36 L351.77,773.18 L353.22,773.00 L354.67,772.83 L356.11,772.66 L357.56,772.50 L359.00,772.33 L360.45,772.17 L361.89,772.02 L363.33,771.86 L364.77,771.71 L366.21,771.56 L367.65,771.41 L369.09,771.27 L370.53,771.12 L371.97,770.98 L373.41,770.84 L374.84,770.70 L376.28,770.56 L377.72,770.42 L379.15,770.28 L380.59,770.14 L382.02,770.01 L383.46,769.87 L384.89,769.73 L386.32,769.59 L387.76,769.46 L389.19,769.32 L390.62,769.18 L392.05,769.04 L393.49,768.89 L394.92,768.75 L396.35,768.61 L397.78,768.46 L399.21,768.31 L400.64,768.16 L402.07,768.01 L403.51,767.85 L404.94,767.69 L406.37,767.53 L407.80,767.36 L409.23,767.20 L410.66,767.02 L412.09,766.85 L413.52,766.67 L414.95,766.49 L416.38,766.30 L417.82,766.11 L419.25,765.91 L420.68,765.71 L422.11,765.51 L423.54,765.30 L424.97,765.08 L426.41,764.86 L427.84,764.63 L429.27,764.40 L430.71,764.16 L432.14,763.91 L433.57,763.66 L435.01,763.40 L436.44,763.14 L437.88,762.87 L439.31,762.59 L440.75,762.30 L442.19,762.01 L443.62,761.71 L445.06,761.40 L446.50,761.08 L447.94,760.75 L449.38,760.42 L450.82,760.08 L452.26,759.73 L453.70,759.37 L455.14,759.00 L456.58,758.62 L458.03,758.23 L459.47,757.83 L460.92,757.42 L462.36,757.00 L463.81,756.57 L465.25,756.13 L466.68,755.68 L468.11,755.21 L469.53,754.72 L470.95,754.22 L472.35,753.70 L473.74,753.16 L475.12,752.61 L476.48,752.03 L477.82,751.43 L479.15,750.81 L480.46,750.17 L481.74,749.50 L483.01,748.80 L484.25,748.09 L485.46,747.34 L486.65,746.56 L487.80,745.76 L488.93,744.93 L490.03,744.06 L491.09,743.17 L492.12,742.24 L493.11,741.27 L494.06,740.28 L494.98,739.24 L495.85,738.17 L496.69,737.07 L497.48,735.94 L498.24,734.77 L498.95,733.58 L499.63,732.36 L500.26,731.11 L500.85,729.83 L501.40,728.54 L501.91,727.22 L502.38,725.88 L502.80,724.52 L503.18,723.14 L503.52,721.75 L503.83,720.34 L504.10,718.91 L504.34,717.48 L504.55,716.03 L504.73,714.57 L504.88,713.10 L505.02,711.63 L505.13,710.14 L505.23,708.66 L505.31,707.16 L505.38,705.67 L505.44,704.17 L505.50,702.67 L505.55,701.17 L505.60,699.68 L505.65,698.18 L505.71,696.70 L505.77,695.21 L505.84,693.73 L505.91,692.26 L506.00,690.79 L506.09,689.33 L506.20,687.87 L506.32,686.42 L506.46,684.97 L506.61,683.53 L506.77,682.09 L506.96,680.66 L507.16,679.23 L507.39,677.81 L507.63,676.40 L507.90,674.99 L508.19,673.58 L508.51,672.18 L508.85,670.79 L509.21,669.40 L509.59,668.02 L510.00,666.64 L510.42,665.26 L510.86,663.89 L511.33,662.53 L511.81,661.17 L512.31,659.81 L512.82,658.46 L513.35,657.12 L513.90,655.78 L514.46,654.44 L515.03,653.10 L515.62,651.77 L516.22,650.45 L516.83,649.12 L517.46,647.80 L518.09,646.49 L518.73,645.18 L519.39,643.87 L520.05,642.56 L520.72,641.26 L521.39,639.96 L522.07,638.66 L522.76,637.37 L523.45,636.08 L524.15,634.79 L524.85,633.50 L525.55,632.22 L526.26,630.94 L526.96,629.66 L527.67,628.38" fill="none" stroke="#000" stroke-width="2.20" stroke-linecap="round" stroke-linejoin="round" />
<text x="374.00" y="761.00" font-size="16.50" fill="#111" text-anchor="start" ><tspan font-style="italic">T</tspan><tspan dx="-0.99" dy="5.12" font-size="11.88">L</tspan></text>
<text x="-0.50" y="844.70" font-size="27.00" text-anchor="start" fill="#000" font-weight="bold" font-style="normal" >f</text>
<rect x="83.10" y="842.10" width="198.20" height="188.00" fill="none" stroke="#222" stroke-width="1.40"/>
<line x1="83.10" y1="844.50" x2="88.10" y2="844.50" stroke="#222" stroke-width="1.40"/>
<line x1="83.10" y1="875.60" x2="92.10" y2="875.60" stroke="#222" stroke-width="1.40"/>
<line x1="83.10" y1="906.70" x2="88.10" y2="906.70" stroke="#222" stroke-width="1.40"/>
<line x1="83.10" y1="937.80" x2="92.10" y2="937.80" stroke="#222" stroke-width="1.40"/>
<line x1="83.10" y1="968.50" x2="88.10" y2="968.50" stroke="#222" stroke-width="1.40"/>
<line x1="83.10" y1="999.50" x2="92.10" y2="999.50" stroke="#222" stroke-width="1.40"/>
<line x1="122.80" y1="1030.10" x2="122.80" y2="1021.10" stroke="#222" stroke-width="1.40"/>
<line x1="172.30" y1="1030.10" x2="172.30" y2="1025.10" stroke="#222" stroke-width="1.40"/>
<line x1="221.80" y1="1030.10" x2="221.80" y2="1021.10" stroke="#222" stroke-width="1.40"/>
<line x1="271.30" y1="1030.10" x2="271.30" y2="1025.10" stroke="#222" stroke-width="1.40"/>
<text x="60.18" y="882.68" font-size="20.00" text-anchor="start" fill="#111" font-weight="normal" font-style="normal" >2</text>
<text x="60.15" y="944.48" font-size="20.00" text-anchor="start" fill="#111" font-weight="normal" font-style="normal" >1</text>
<text x="59.96" y="1006.28" font-size="20.00" text-anchor="start" fill="#111" font-weight="normal" font-style="normal" >0</text>
<text x="103.87" y="1054.38" font-size="20.00" text-anchor="start" fill="#111" font-weight="normal" font-style="normal" >0.85</text>
<text x="203.29" y="1054.38" font-size="20.00" text-anchor="start" fill="#111" font-weight="normal" font-style="normal" >0.90</text>
<text x="184.00" y="1082.00" font-size="19.50" fill="#111" text-anchor="middle" ><tspan font-style="italic">V</tspan><tspan dx="-1.17" dy="6.04" font-size="14.04">ext</tspan><tspan dy="-6.04"> (V)</tspan></text>
<text x="0.00" y="0.00" font-size="19.89" fill="#111" text-anchor="middle" transform="translate(25,934.4) rotate(-90)"><tspan font-style="italic">j</tspan><tspan dx="-1.19" dy="6.17" font-size="14.32">m</tspan><tspan dy="-6.17"> (×10</tspan><tspan dy="-8.95" font-size="13.53">8</tspan><tspan dy="8.95"> Am</tspan><tspan dy="-8.95" font-size="13.53">−2</tspan><tspan dy="8.95">)</tspan></text>
<path d="M83.11,993.53 L84.01,993.49 L84.91,993.44 L85.82,993.40 L86.72,993.36 L87.63,993.32 L88.53,993.28 L89.44,993.24 L90.34,993.20 L91.25,993.16 L92.15,993.13 L93.06,993.10 L93.96,993.06 L94.87,993.03 L95.77,993.00 L96.68,992.97 L97.58,992.94 L98.49,992.91 L99.40,992.89 L100.30,992.86 L101.21,992.84 L102.11,992.81 L103.02,992.79 L103.93,992.77 L104.83,992.75 L105.74,992.73 L106.64,992.71 L107.55,992.69 L108.46,992.67 L109.36,992.65 L110.27,992.64 L111.18,992.62 L112.08,992.61 L112.99,992.60 L113.90,992.58 L114.81,992.57 L115.71,992.56 L116.62,992.55 L117.53,992.54 L118.43,992.53 L119.34,992.52 L120.25,992.51 L121.16,992.50 L122.06,992.50 L122.97,992.49 L123.88,992.49 L124.79,992.48 L125.69,992.47 L126.60,992.47 L127.51,992.47 L128.42,992.46 L129.33,992.46 L130.23,992.46 L131.14,992.46 L132.05,992.45 L132.96,992.45 L133.86,992.45 L134.77,992.45 L135.68,992.45 L136.59,992.45 L137.50,992.45 L138.41,992.45 L139.31,992.45 L140.22,992.45 L141.13,992.46 L142.04,992.46 L142.95,992.46 L143.85,992.46 L144.76,992.46 L145.67,992.46 L146.58,992.47 L147.49,992.47 L148.40,992.47 L149.30,992.48 L150.21,992.48 L151.12,992.48 L152.03,992.48 L152.94,992.49 L153.85,992.49 L154.75,992.49 L155.66,992.49 L156.57,992.50 L157.48,992.50 L158.39,992.50 L159.30,992.50 L160.21,992.51 L161.11,992.51 L162.02,992.51 L162.93,992.51 L163.84,992.51 L164.75,992.52 L165.66,992.52 L166.56,992.52 L167.47,992.52 L168.38,992.52 L169.29,992.52 L170.20,992.52 L171.11,992.52 L172.01,992.52 L172.92,992.52 L173.83,992.51 L174.74,992.51 L175.65,992.51 L176.55,992.51 L177.46,992.50 L178.37,992.50 L179.28,992.50 L180.19,992.49 L181.09,992.49 L182.00,992.48 L182.91,992.47 L183.82,992.47 L184.72,992.46 L185.63,992.45 L186.54,992.44 L187.45,992.43 L188.36,992.42 L189.26,992.41 L190.17,992.40 L191.08,992.39 L191.99,992.38 L192.89,992.36 L193.80,992.35 L194.71,992.33 L195.61,992.32 L196.52,992.30 L197.43,992.28 L198.34,992.27 L199.24,992.25 L200.15,992.23 L201.06,992.21 L201.96,992.18 L202.87,992.16 L203.78,992.14 L204.68,992.11 L205.59,992.09 L206.49,992.06 L207.40,992.03 L208.31,992.01 L209.21,991.98 L210.12,991.95 L211.03,991.91 L211.93,991.88 L212.84,991.85 L213.74,991.81 L214.65,991.78 L215.55,991.74 L216.46,991.70 L217.36,991.66 L218.27,991.62 L219.18,991.58 L220.08,991.53 L220.99,991.49 L221.89,991.44 L222.79,991.40 L223.70,991.35 L224.60,991.30 L225.51,991.25 L226.41,991.19 L227.32,991.14 L228.22,991.09 L229.13,991.03 L230.03,990.97 L230.93,990.91 L231.84,990.85 L232.74,990.79 L233.64,990.72 L234.55,990.66 L235.45,990.59 L236.35,990.52 L237.26,990.45 L238.16,990.38 L239.06,990.31 L239.97,990.23 L240.87,990.16 L241.77,990.08 L242.67,990.00 L243.57,989.92 L244.48,989.83 L245.38,989.75 L246.28,989.66 L247.18,989.57 L248.08,989.48 L248.99,989.39 L249.89,989.30 L250.79,989.20 L251.69,989.11 L252.59,989.01 L253.49,988.91 L254.39,988.80 L255.29,988.70 L256.19,988.59 L257.09,988.48 L257.99,988.37 L258.89,988.26 L259.79,988.14 L260.69,988.03 L261.59,987.91 L262.49,987.79 L263.39,987.67" fill="none" stroke="#000" stroke-width="2.20" stroke-linecap="round" stroke-linejoin="round" />
<path d="M102.27,934.11 L102.59,934.99 L102.94,935.84 L103.31,936.68 L103.69,937.50 L104.10,938.30 L104.53,939.09 L104.98,939.85 L105.45,940.60 L105.94,941.34 L106.44,942.06 L106.96,942.76 L107.49,943.45 L108.04,944.13 L108.61,944.79 L109.19,945.43 L109.78,946.07 L110.39,946.69 L111.00,947.29 L111.63,947.89 L112.27,948.47 L112.91,949.04 L113.57,949.60 L114.24,950.14 L114.91,950.68 L115.59,951.21 L116.27,951.72 L116.96,952.23 L117.66,952.72 L118.36,953.21 L119.07,953.69 L119.79,954.15 L120.51,954.61 L121.24,955.06 L121.97,955.50 L122.71,955.93 L123.45,956.35 L124.20,956.76 L124.95,957.16 L125.71,957.56 L126.48,957.95 L127.25,958.33 L128.02,958.70 L128.80,959.06 L129.58,959.41 L130.37,959.76 L131.16,960.10 L131.96,960.43 L132.76,960.76 L133.56,961.08 L134.37,961.39 L135.19,961.69 L136.00,961.99 L136.82,962.28 L137.65,962.57 L138.48,962.84 L139.31,963.12 L140.14,963.38 L140.98,963.64 L141.82,963.90 L142.67,964.14 L143.51,964.39 L144.36,964.62 L145.22,964.86 L146.07,965.08 L146.93,965.31 L147.79,965.52 L148.66,965.74 L149.52,965.95 L150.39,966.15 L151.26,966.35 L152.13,966.54 L153.01,966.74 L153.88,966.92 L154.76,967.11 L155.64,967.29 L156.52,967.46 L157.40,967.64 L158.29,967.81 L159.17,967.97 L160.06,968.14 L160.95,968.30 L161.84,968.46 L162.73,968.61 L163.62,968.77 L164.51,968.92 L165.40,969.07 L166.29,969.21 L167.19,969.36 L168.08,969.50 L168.97,969.64 L169.87,969.79 L170.76,969.92 L171.66,970.06 L172.55,970.20 L173.44,970.33 L174.34,970.47 L175.23,970.60 L176.12,970.74 L177.01,970.87 L177.91,971.00 L178.80,971.14 L179.69,971.27 L180.57,971.40 L181.46,971.54 L182.35,971.67 L183.23,971.80 L184.12,971.94 L185.00,972.07 L185.88,972.21 L186.76,972.35 L187.64,972.49 L188.52,972.62 L189.39,972.76 L190.26,972.91 L191.14,973.05 L192.01,973.19 L192.88,973.33 L193.75,973.48 L194.62,973.62 L195.48,973.76 L196.35,973.91 L197.21,974.06 L198.08,974.20 L198.94,974.35 L199.80,974.50 L200.67,974.65 L201.53,974.80 L202.39,974.95 L203.24,975.10 L204.10,975.25 L204.96,975.41 L205.82,975.56 L206.67,975.71 L207.53,975.87 L208.39,976.02 L209.24,976.17 L210.09,976.33 L210.95,976.49 L211.80,976.64 L212.66,976.80 L213.51,976.96 L214.36,977.11 L215.21,977.27 L216.07,977.43 L216.92,977.59 L217.77,977.75 L218.62,977.91 L219.47,978.07 L220.32,978.23 L221.18,978.39 L222.03,978.55 L222.88,978.71 L223.73,978.87 L224.58,979.03 L225.44,979.19 L226.29,979.36 L227.14,979.52 L227.99,979.68 L228.85,979.84 L229.70,980.01 L230.56,980.17 L231.41,980.33 L232.26,980.50 L233.12,980.66 L233.98,980.82 L234.83,980.99 L235.69,981.15 L236.55,981.31 L237.41,981.48 L238.27,981.64 L239.13,981.81 L239.99,981.97 L240.85,982.13 L241.71,982.30 L242.58,982.46 L243.44,982.63 L244.31,982.79 L245.17,982.95 L246.04,983.12 L246.91,983.28 L247.78,983.45 L248.65,983.61 L249.52,983.77 L250.40,983.94 L251.27,984.10 L252.15,984.26 L253.03,984.42 L253.91,984.59 L254.79,984.75 L255.67,984.91 L256.55,985.07 L257.44,985.23 L258.32,985.40 L259.21,985.56 L260.10,985.72 L260.99,985.88 L261.89,986.04 L262.78,986.20 L263.68,986.36" fill="none" stroke="#ff0000" stroke-width="2.60" stroke-linecap="round" stroke-linejoin="round" />
<path d="M102.64,933.68 L102.84,932.59 L103.06,931.53 L103.31,930.49 L103.57,929.46 L103.86,928.45 L104.17,927.47 L104.50,926.50 L104.85,925.55 L105.23,924.61 L105.62,923.70 L106.03,922.80 L106.46,921.91 L106.91,921.05 L107.38,920.19 L107.87,919.36 L108.37,918.54 L108.89,917.73 L109.43,916.94 L109.99,916.17 L110.56,915.41 L111.15,914.66 L111.75,913.92 L112.36,913.20 L113.00,912.49 L113.64,911.80 L114.30,911.11 L114.97,910.44 L115.65,909.78 L116.35,909.13 L117.06,908.49 L117.78,907.86 L118.51,907.25 L119.25,906.64 L120.00,906.04 L120.76,905.45 L121.53,904.87 L122.31,904.30 L123.10,903.73 L123.90,903.18 L124.70,902.63 L125.51,902.09 L126.33,901.55 L127.16,901.03 L127.99,900.51 L128.82,899.99 L129.67,899.48 L130.51,898.98 L131.36,898.48 L132.22,897.99 L133.08,897.50 L133.94,897.01 L134.80,896.53 L135.67,896.06 L136.54,895.58 L137.41,895.11 L138.28,894.64 L139.16,894.17 L140.03,893.71 L140.91,893.25 L141.78,892.79 L142.66,892.33 L143.54,891.88 L144.42,891.43 L145.30,890.98 L146.18,890.53 L147.06,890.08 L147.94,889.64 L148.83,889.20 L149.71,888.76 L150.60,888.32 L151.49,887.89 L152.37,887.46 L153.26,887.03 L154.15,886.60 L155.04,886.17 L155.93,885.75 L156.82,885.32 L157.72,884.90 L158.61,884.49 L159.51,884.07 L160.40,883.66 L161.30,883.24 L162.19,882.83 L163.09,882.42 L163.99,882.02 L164.89,881.61 L165.79,881.21 L166.69,880.81 L167.59,880.41 L168.49,880.01 L169.40,879.61 L170.30,879.22 L171.20,878.83 L172.11,878.43 L173.01,878.05 L173.92,877.66 L174.83,877.27 L175.73,876.88 L176.64,876.50 L177.55,876.12 L178.46,875.74 L179.37,875.36 L180.28,874.98 L181.19,874.60 L182.10,874.23 L183.01,873.86 L183.93,873.48 L184.84,873.11 L185.75,872.74 L186.67,872.37 L187.58,872.01 L188.50,871.64 L189.41,871.28 L190.33,870.91 L191.24,870.55 L192.16,870.19 L193.08,869.83 L193.99,869.47 L194.91,869.11 L195.83,868.75 L196.75,868.40 L197.67,868.04 L198.58,867.69 L199.50,867.33 L200.42,866.98 L201.34,866.63 L202.26,866.28 L203.18,865.93 L204.11,865.58 L205.03,865.23 L205.95,864.89 L206.87,864.54 L207.79,864.19 L208.71,863.85 L209.64,863.50 L210.56,863.16 L211.48,862.82 L212.40,862.47 L213.33,862.13 L214.25,861.79 L215.17,861.45 L216.10,861.11 L217.02,860.77 L217.94,860.43 L218.87,860.09 L219.79,859.75 L220.71,859.42 L221.64,859.08 L222.56,858.74 L223.48,858.40 L224.41,858.07 L225.33,857.73 L226.26,857.40 L227.18,857.06 L228.10,856.72 L229.03,856.39 L229.95,856.05 L230.88,855.72 L231.80,855.38 L232.72,855.05 L233.65,854.72 L234.57,854.38 L235.49,854.05 L236.42,853.71 L237.34,853.38 L238.26,853.04 L239.18,852.71 L240.11,852.37 L241.03,852.04 L241.95,851.71 L242.87,851.37 L243.80,851.04 L244.72,850.70 L245.64,850.37 L246.56,850.03 L247.48,849.69 L248.40,849.36 L249.32,849.02 L250.24,848.69 L251.16,848.35 L252.08,848.01 L253.00,847.67 L253.92,847.34 L254.84,847.00 L255.76,846.66 L256.67,846.32 L257.59,845.98 L258.51,845.64 L259.42,845.30 L260.34,844.96 L261.26,844.61 L262.17,844.27 L263.09,843.93 L264.00,843.58 L264.91,843.24 L265.83,842.89 L266.74,842.55 L267.65,842.20 L268.56,841.85" fill="none" stroke="#0000ff" stroke-width="3.40" stroke-linecap="round" stroke-linejoin="round" />
<text x="152.50" y="866.00" font-size="16.50" fill="#2222ff" text-anchor="start" ><tspan font-style="italic">j</tspan><tspan dx="-0.99" dy="5.12" font-size="11.88">H</tspan></text>
<text x="163.50" y="952.50" font-size="16.50" fill="#ff1a1a" text-anchor="start" ><tspan font-style="italic">j</tspan><tspan dx="-0.99" dy="5.12" font-size="11.88">U</tspan></text>
<text x="164.50" y="1013.00" font-size="16.50" fill="#111" text-anchor="start" ><tspan font-style="italic">j</tspan><tspan dx="-0.99" dy="5.12" font-size="11.88">L</tspan></text>
<text x="303.00" y="844.50" font-size="27.00" text-anchor="start" fill="#000" font-weight="bold" font-style="normal" >g</text>
<rect x="330.30" y="841.50" width="197.70" height="187.90" fill="none" stroke="#222" stroke-width="1.40"/>
<line x1="330.30" y1="853.30" x2="335.30" y2="853.30" stroke="#222" stroke-width="1.40"/>
<line x1="330.30" y1="888.70" x2="340.30" y2="888.70" stroke="#222" stroke-width="1.40"/>
<line x1="330.30" y1="923.90" x2="335.30" y2="923.90" stroke="#222" stroke-width="1.40"/>
<line x1="330.30" y1="959.40" x2="340.30" y2="959.40" stroke="#222" stroke-width="1.40"/>
<line x1="330.30" y1="994.80" x2="335.30" y2="994.80" stroke="#222" stroke-width="1.40"/>
<line x1="363.30" y1="1029.40" x2="363.30" y2="1024.40" stroke="#222" stroke-width="1.40"/>
<line x1="407.40" y1="1029.40" x2="407.40" y2="1020.40" stroke="#222" stroke-width="1.40"/>
<line x1="451.00" y1="1029.40" x2="451.00" y2="1024.40" stroke="#222" stroke-width="1.40"/>
<line x1="494.90" y1="1029.40" x2="494.90" y2="1020.40" stroke="#222" stroke-width="1.40"/>
<text x="389.58" y="1054.18" font-size="20.00" text-anchor="start" fill="#111" font-weight="normal" font-style="normal" >0.88</text>
<text x="479.59" y="1054.18" font-size="20.00" text-anchor="start" fill="#111" font-weight="normal" font-style="normal" >0.96</text>
<text x="430.00" y="1082.00" font-size="19.50" fill="#111" text-anchor="middle" ><tspan font-style="italic">V</tspan><tspan dx="-1.17" dy="6.04" font-size="14.04">ext</tspan><tspan dy="-6.04"> (V)</tspan></text>
<path d="M330.16,1010.83 L331.68,1010.74 L333.20,1010.65 L334.72,1010.56 L336.24,1010.46 L337.75,1010.37 L339.26,1010.27 L340.77,1010.18 L342.28,1010.08 L343.78,1009.98 L345.28,1009.89 L346.78,1009.79 L348.27,1009.69 L349.77,1009.59 L351.26,1009.48 L352.75,1009.38 L354.24,1009.28 L355.73,1009.17 L357.21,1009.07 L358.70,1008.96 L360.18,1008.85 L361.66,1008.74 L363.14,1008.63 L364.62,1008.52 L366.09,1008.40 L367.57,1008.29 L369.04,1008.17 L370.51,1008.06 L371.99,1007.94 L373.46,1007.82 L374.93,1007.70 L376.39,1007.57 L377.86,1007.45 L379.33,1007.32 L380.80,1007.19 L382.26,1007.06 L383.73,1006.93 L385.19,1006.80 L386.66,1006.66 L388.12,1006.53 L389.59,1006.39 L391.05,1006.25 L392.51,1006.11 L393.98,1005.97 L395.44,1005.82 L396.90,1005.67 L398.37,1005.52 L399.83,1005.37 L401.30,1005.22 L402.76,1005.06 L404.23,1004.91 L405.69,1004.75 L407.16,1004.59 L408.63,1004.42 L410.09,1004.26 L411.56,1004.09 L413.03,1003.92 L414.50,1003.75 L415.97,1003.57 L417.44,1003.39 L418.92,1003.21 L420.39,1003.03 L421.87,1002.85 L423.34,1002.66 L424.82,1002.47 L426.30,1002.28 L427.78,1002.09 L429.26,1001.89 L430.75,1001.69 L432.23,1001.49 L433.72,1001.29 L435.21,1001.08 L436.70,1000.87 L438.20,1000.66 L439.69,1000.44 L441.19,1000.22 L442.69,1000.00 L444.19,999.78 L445.70,999.55 L447.20,999.32 L448.71,999.09 L450.22,998.85 L451.72,998.60 L453.23,998.35 L454.74,998.08 L456.24,997.81 L457.74,997.53 L459.23,997.23 L460.72,996.93 L462.21,996.61 L463.69,996.27 L465.16,995.92 L466.63,995.55 L468.08,995.16 L469.53,994.76 L470.97,994.33 L472.39,993.89 L473.81,993.42 L475.21,992.93 L476.60,992.41 L477.98,991.87 L479.34,991.30 L480.69,990.71 L482.02,990.09 L483.34,989.43 L484.64,988.75 L485.92,988.04 L487.18,987.29 L488.42,986.51 L489.64,985.70 L490.83,984.85 L492.00,983.97 L493.12,983.05 L494.21,982.10 L495.26,981.11 L496.26,980.08 L497.22,979.02 L498.12,977.92 L498.97,976.78 L499.75,975.60 L500.48,974.39 L501.15,973.14 L501.76,971.85 L502.31,970.53 L502.81,969.18 L503.27,967.81 L503.67,966.41 L504.04,964.99 L504.36,963.54 L504.64,962.08 L504.89,960.60 L505.10,959.11 L505.29,957.61 L505.44,956.10 L505.57,954.58 L505.68,953.05 L505.77,951.53 L505.84,950.00 L505.89,948.48 L505.93,946.96 L505.97,945.44 L505.99,943.92 L506.00,942.40 L506.02,940.89 L506.03,939.38 L506.03,937.87 L506.04,936.37 L506.06,934.86 L506.08,933.37 L506.11,931.87 L506.14,930.38 L506.19,928.89 L506.25,927.40 L506.33,925.92 L506.43,924.44 L506.55,922.96 L506.68,921.49 L506.85,920.02 L507.03,918.56 L507.24,917.10 L507.48,915.64 L507.73,914.19 L508.01,912.74 L508.31,911.29 L508.62,909.85 L508.96,908.41 L509.32,906.98 L509.70,905.54 L510.09,904.12 L510.50,902.69 L510.93,901.27 L511.37,899.86 L511.83,898.44 L512.30,897.03 L512.79,895.63 L513.29,894.22 L513.81,892.82 L514.33,891.43 L514.87,890.03 L515.42,888.64 L515.98,887.26 L516.55,885.87 L517.12,884.49 L517.71,883.12 L518.30,881.74 L518.90,880.37 L519.51,879.01 L520.12,877.64 L520.74,876.28 L521.37,874.93 L521.99,873.57 L522.62,872.22 L523.26,870.87 L523.89,869.52 L524.53,868.18 L525.17,866.84 L525.81,865.51 L526.44,864.17 L527.08,862.84 L527.72,861.51" fill="none" stroke="#000" stroke-width="2.20" stroke-linecap="round" stroke-linejoin="round" />
<text x="377.00" y="989.00" font-size="16.50" fill="#111" text-anchor="start" ><tspan font-style="italic">j</tspan><tspan dx="-0.99" dy="5.12" font-size="11.88">L</tspan></text>
<text x="-0.30" y="1127.20" font-size="27.00" text-anchor="start" fill="#000" font-weight="bold" font-style="normal" >h</text>
<rect x="53.70" y="1124.00" width="197.60" height="188.50" fill="none" stroke="#222" stroke-width="1.40"/>
<line x1="53.70" y1="1139.60" x2="62.70" y2="1139.60" stroke="#222" stroke-width="1.40"/>
<line x1="53.70" y1="1218.20" x2="58.70" y2="1218.20" stroke="#222" stroke-width="1.40"/>
<line x1="53.70" y1="1296.90" x2="62.70" y2="1296.90" stroke="#222" stroke-width="1.40"/>
<line x1="93.00" y1="1312.50" x2="93.00" y2="1303.50" stroke="#222" stroke-width="1.40"/>
<line x1="142.30" y1="1312.50" x2="142.30" y2="1307.50" stroke="#222" stroke-width="1.40"/>
<line x1="191.60" y1="1312.50" x2="191.60" y2="1303.50" stroke="#222" stroke-width="1.40"/>
<line x1="241.60" y1="1312.50" x2="241.60" y2="1307.50" stroke="#222" stroke-width="1.40"/>
<text x="34.45" y="1146.53" font-size="20.00" text-anchor="start" fill="#111" font-weight="normal" font-style="normal" >1</text>
<text x="34.26" y="1303.28" font-size="20.00" text-anchor="start" fill="#111" font-weight="normal" font-style="normal" >0</text>
<text x="73.47" y="1334.33" font-size="20.00" text-anchor="start" fill="#111" font-weight="normal" font-style="normal" >0.85</text>
<text x="172.54" y="1334.33" font-size="20.00" text-anchor="start" fill="#111" font-weight="normal" font-style="normal" >0.90</text>
<text x="153.50" y="1362.50" font-size="19.50" fill="#111" text-anchor="middle" ><tspan font-style="italic">V</tspan><tspan dx="-1.17" dy="6.04" font-size="14.04">ext</tspan><tspan dy="-6.04"> (V)</tspan></text>
<text x="0.00" y="0.00" font-size="19.50" fill="#111" text-anchor="middle" transform="translate(17,1226) rotate(-90)"><tspan font-style="italic">A</tspan><tspan dx="-1.17" dy="6.04" font-size="14.04">f</tspan></text>
<path d="M73.84,1150.46 L73.78,1151.65 L73.73,1152.84 L73.69,1154.03 L73.66,1155.22 L73.64,1156.41 L73.64,1157.61 L73.64,1158.81 L73.66,1160.01 L73.69,1161.20 L73.73,1162.40 L73.78,1163.60 L73.84,1164.81 L73.91,1166.01 L74.00,1167.21 L74.10,1168.41 L74.20,1169.61 L74.32,1170.81 L74.45,1172.01 L74.60,1173.21 L74.75,1174.41 L74.91,1175.60 L75.09,1176.80 L75.28,1177.99 L75.48,1179.19 L75.69,1180.38 L75.91,1181.57 L76.14,1182.76 L76.38,1183.94 L76.64,1185.13 L76.91,1186.31 L77.18,1187.49 L77.47,1188.66 L77.77,1189.84 L78.08,1191.01 L78.40,1192.17 L78.74,1193.34 L79.08,1194.50 L79.44,1195.65 L79.81,1196.80 L80.18,1197.95 L80.57,1199.10 L80.97,1200.24 L81.39,1201.37 L81.81,1202.50 L82.24,1203.63 L82.69,1204.75 L83.14,1205.87 L83.61,1206.98 L84.09,1208.08 L84.58,1209.18 L85.08,1210.28 L85.59,1211.37 L86.11,1212.45 L86.65,1213.52 L87.19,1214.59 L87.75,1215.66 L88.32,1216.71 L88.89,1217.76 L89.48,1218.81 L90.08,1219.84 L90.69,1220.87 L91.32,1221.89 L91.95,1222.91 L92.59,1223.91 L93.25,1224.91 L93.91,1225.90 L94.59,1226.88 L95.28,1227.86 L95.98,1228.82 L96.69,1229.78 L97.41,1230.72 L98.14,1231.66 L98.88,1232.59 L99.63,1233.51 L100.40,1234.42 L101.17,1235.32 L101.96,1236.21 L102.76,1237.10 L103.56,1237.97 L104.38,1238.83 L105.21,1239.68 L106.05,1240.52 L106.90,1241.35 L107.76,1242.17 L108.63,1242.98 L109.51,1243.78 L110.39,1244.57 L111.29,1245.36 L112.20,1246.13 L113.11,1246.89 L114.04,1247.64 L114.97,1248.38 L115.91,1249.12 L116.86,1249.84 L117.82,1250.55 L118.78,1251.25 L119.75,1251.95 L120.73,1252.63 L121.72,1253.30 L122.72,1253.97 L123.72,1254.62 L124.73,1255.27 L125.74,1255.90 L126.76,1256.53 L127.79,1257.15 L128.82,1257.75 L129.86,1258.35 L130.91,1258.94 L131.96,1259.52 L133.02,1260.09 L134.08,1260.65 L135.15,1261.20 L136.22,1261.74 L137.29,1262.27 L138.38,1262.79 L139.46,1263.30 L140.55,1263.81 L141.64,1264.30 L142.74,1264.79 L143.84,1265.26 L144.95,1265.73 L146.06,1266.19 L147.17,1266.65 L148.28,1267.09 L149.40,1267.53 L150.52,1267.96 L151.65,1268.38 L152.78,1268.80 L153.91,1269.21 L155.04,1269.61 L156.18,1270.01 L157.32,1270.40 L158.46,1270.79 L159.60,1271.17 L160.74,1271.54 L161.89,1271.91 L163.04,1272.28 L164.19,1272.64 L165.34,1273.00 L166.50,1273.35 L167.65,1273.70 L168.81,1274.05 L169.96,1274.39 L171.12,1274.73 L172.28,1275.07 L173.44,1275.40 L174.60,1275.74 L175.77,1276.07 L176.93,1276.40 L178.09,1276.72 L179.25,1277.05 L180.42,1277.37 L181.58,1277.70 L182.74,1278.02 L183.91,1278.34 L185.07,1278.67 L186.23,1278.99 L187.39,1279.31 L188.55,1279.63 L189.71,1279.96 L190.87,1280.28 L192.03,1280.61 L193.19,1280.94 L194.34,1281.27 L195.50,1281.60 L196.65,1281.93 L197.80,1282.27 L198.95,1282.61 L200.10,1282.95 L201.25,1283.29 L202.39,1283.64 L203.53,1283.99 L204.67,1284.35 L205.81,1284.71 L206.94,1285.07 L208.08,1285.44 L209.21,1285.81 L210.33,1286.19 L211.46,1286.57 L212.58,1286.96 L213.70,1287.35 L214.81,1287.75 L215.92,1288.16 L217.03,1288.57 L218.13,1288.99 L219.23,1289.42 L220.33,1289.85 L221.42,1290.29 L222.51,1290.74 L223.59,1291.20 L224.67,1291.66 L225.75,1292.13 L226.82,1292.61 L227.88,1293.10 L228.94,1293.60 L230.00,1294.11 L231.05,1294.63 L232.10,1295.15 L233.14,1295.69" fill="none" stroke="#0000ff" stroke-width="1.30" stroke-linecap="round" stroke-linejoin="round" />
<path d="M73.84,1286.04 L73.78,1284.85 L73.73,1283.66 L73.69,1282.47 L73.66,1281.28 L73.64,1280.09 L73.64,1278.89 L73.64,1277.69 L73.66,1276.49 L73.69,1275.30 L73.73,1274.10 L73.78,1272.90 L73.84,1271.69 L73.91,1270.49 L74.00,1269.29 L74.10,1268.09 L74.20,1266.89 L74.32,1265.69 L74.45,1264.49 L74.60,1263.29 L74.75,1262.09 L74.91,1260.90 L75.09,1259.70 L75.28,1258.51 L75.48,1257.31 L75.69,1256.12 L75.91,1254.93 L76.14,1253.74 L76.38,1252.56 L76.64,1251.37 L76.91,1250.19 L77.18,1249.01 L77.47,1247.84 L77.77,1246.66 L78.08,1245.49 L78.40,1244.33 L78.74,1243.16 L79.08,1242.00 L79.44,1240.85 L79.81,1239.70 L80.18,1238.55 L80.57,1237.40 L80.97,1236.26 L81.39,1235.13 L81.81,1234.00 L82.24,1232.87 L82.69,1231.75 L83.14,1230.63 L83.61,1229.52 L84.09,1228.42 L84.58,1227.32 L85.08,1226.22 L85.59,1225.13 L86.11,1224.05 L86.65,1222.98 L87.19,1221.91 L87.75,1220.84 L88.32,1219.79 L88.89,1218.74 L89.48,1217.69 L90.08,1216.66 L90.69,1215.63 L91.32,1214.61 L91.95,1213.59 L92.59,1212.59 L93.25,1211.59 L93.91,1210.60 L94.59,1209.62 L95.28,1208.64 L95.98,1207.68 L96.69,1206.72 L97.41,1205.78 L98.14,1204.84 L98.88,1203.91 L99.63,1202.99 L100.40,1202.08 L101.17,1201.18 L101.96,1200.29 L102.76,1199.40 L103.56,1198.53 L104.38,1197.67 L105.21,1196.82 L106.05,1195.98 L106.90,1195.15 L107.76,1194.33 L108.63,1193.52 L109.51,1192.72 L110.39,1191.93 L111.29,1191.14 L112.20,1190.37 L113.11,1189.61 L114.04,1188.86 L114.97,1188.12 L115.91,1187.38 L116.86,1186.66 L117.82,1185.95 L118.78,1185.25 L119.75,1184.55 L120.73,1183.87 L121.72,1183.20 L122.72,1182.53 L123.72,1181.88 L124.73,1181.23 L125.74,1180.60 L126.76,1179.97 L127.79,1179.35 L128.82,1178.75 L129.86,1178.15 L130.91,1177.56 L131.96,1176.98 L133.02,1176.41 L134.08,1175.85 L135.15,1175.30 L136.22,1174.76 L137.29,1174.23 L138.38,1173.71 L139.46,1173.20 L140.55,1172.69 L141.64,1172.20 L142.74,1171.71 L143.84,1171.24 L144.95,1170.77 L146.06,1170.31 L147.17,1169.85 L148.28,1169.41 L149.40,1168.97 L150.52,1168.54 L151.65,1168.12 L152.78,1167.70 L153.91,1167.29 L155.04,1166.89 L156.18,1166.49 L157.32,1166.10 L158.46,1165.71 L159.60,1165.33 L160.74,1164.96 L161.89,1164.59 L163.04,1164.22 L164.19,1163.86 L165.34,1163.50 L166.50,1163.15 L167.65,1162.80 L168.81,1162.45 L169.96,1162.11 L171.12,1161.77 L172.28,1161.43 L173.44,1161.10 L174.60,1160.76 L175.77,1160.43 L176.93,1160.10 L178.09,1159.78 L179.25,1159.45 L180.42,1159.13 L181.58,1158.80 L182.74,1158.48 L183.91,1158.16 L185.07,1157.83 L186.23,1157.51 L187.39,1157.19 L188.55,1156.87 L189.71,1156.54 L190.87,1156.22 L192.03,1155.89 L193.19,1155.56 L194.34,1155.23 L195.50,1154.90 L196.65,1154.57 L197.80,1154.23 L198.95,1153.89 L200.10,1153.55 L201.25,1153.21 L202.39,1152.86 L203.53,1152.51 L204.67,1152.15 L205.81,1151.79 L206.94,1151.43 L208.08,1151.06 L209.21,1150.69 L210.33,1150.31 L211.46,1149.93 L212.58,1149.54 L213.70,1149.15 L214.81,1148.75 L215.92,1148.34 L217.03,1147.93 L218.13,1147.51 L219.23,1147.08 L220.33,1146.65 L221.42,1146.21 L222.51,1145.76 L223.59,1145.30 L224.67,1144.84 L225.75,1144.37 L226.82,1143.89 L227.88,1143.40 L228.94,1142.90 L230.00,1142.39 L231.05,1141.87 L232.10,1141.35 L233.14,1140.81" fill="none" stroke="#111" stroke-width="1.30" stroke-linecap="round" stroke-linejoin="round" />
<text x="89.30" y="1148.00" font-size="16.50" fill="#8a0cfb" text-anchor="start" ><tspan font-style="italic">R</tspan><tspan dx="-0.99" dy="5.12" font-size="11.88">S</tspan><tspan dy="-5.12"> &lt; </tspan><tspan font-style="italic">R</tspan><tspan dx="-0.99" dy="5.12" font-size="11.88">NDR</tspan></text>
<text x="174.30" y="1181.80" font-size="16.50" fill="#111" text-anchor="start" ><tspan>1-</tspan><tspan font-style="italic">x</tspan><tspan> (</tspan><tspan font-style="italic">j</tspan><tspan dx="-0.99" dy="5.12" font-size="11.88">L</tspan><tspan dy="-5.12">)</tspan></text>
<text x="177.30" y="1268.00" font-size="16.50" fill="#2222ff" text-anchor="start" ><tspan font-style="italic">x</tspan><tspan> (</tspan><tspan font-style="italic">j</tspan><tspan dx="-0.99" dy="5.12" font-size="11.88">H</tspan><tspan dy="-5.12">)</tspan></text>
<text x="279.00" y="1127.20" font-size="27.00" text-anchor="start" fill="#000" font-weight="bold" font-style="normal" >i</text>
<rect x="335.50" y="1123.00" width="197.30" height="187.50" fill="none" stroke="#222" stroke-width="1.40"/>
<line x1="335.50" y1="1135.00" x2="340.50" y2="1135.00" stroke="#222" stroke-width="1.40"/>
<line x1="335.50" y1="1159.30" x2="344.50" y2="1159.30" stroke="#222" stroke-width="1.40"/>
<line x1="335.50" y1="1183.70" x2="340.50" y2="1183.70" stroke="#222" stroke-width="1.40"/>
<line x1="335.50" y1="1208.00" x2="344.50" y2="1208.00" stroke="#222" stroke-width="1.40"/>
<line x1="335.50" y1="1232.40" x2="340.50" y2="1232.40" stroke="#222" stroke-width="1.40"/>
<line x1="335.50" y1="1256.70" x2="344.50" y2="1256.70" stroke="#222" stroke-width="1.40"/>
<line x1="335.50" y1="1281.00" x2="340.50" y2="1281.00" stroke="#222" stroke-width="1.40"/>
<line x1="335.50" y1="1305.40" x2="344.50" y2="1305.40" stroke="#222" stroke-width="1.40"/>
<line x1="374.40" y1="1310.50" x2="374.40" y2="1301.50" stroke="#222" stroke-width="1.40"/>
<line x1="423.90" y1="1310.50" x2="423.90" y2="1305.50" stroke="#222" stroke-width="1.40"/>
<line x1="474.20" y1="1310.50" x2="474.20" y2="1301.50" stroke="#222" stroke-width="1.40"/>
<line x1="523.60" y1="1310.50" x2="523.60" y2="1305.50" stroke="#222" stroke-width="1.40"/>
<text x="315.96" y="1166.58" font-size="20.00" text-anchor="start" fill="#111" font-weight="normal" font-style="normal" >4</text>
<text x="316.26" y="1215.28" font-size="20.00" text-anchor="start" fill="#111" font-weight="normal" font-style="normal" >3</text>
<text x="316.38" y="1264.08" font-size="20.00" text-anchor="start" fill="#111" font-weight="normal" font-style="normal" >2</text>
<text x="316.35" y="1312.68" font-size="20.00" text-anchor="start" fill="#111" font-weight="normal" font-style="normal" >1</text>
<text x="355.77" y="1334.33" font-size="20.00" text-anchor="start" fill="#111" font-weight="normal" font-style="normal" >0.85</text>
<text x="454.99" y="1334.33" font-size="20.00" text-anchor="start" fill="#111" font-weight="normal" font-style="normal" >0.90</text>
<text x="436.00" y="1362.50" font-size="19.50" fill="#111" text-anchor="middle" ><tspan font-style="italic">V</tspan><tspan dx="-1.17" dy="6.04" font-size="14.04">ext</tspan><tspan dy="-6.04"> (V)</tspan></text>
<text x="0.00" y="0.00" font-size="19.50" fill="#111" text-anchor="middle" transform="translate(299,1228) rotate(-90)"><tspan>Δ</tspan><tspan font-style="italic">H</tspan><tspan> (×10</tspan><tspan dy="-8.78" font-size="13.26">−11</tspan><tspan dy="8.78"> Ws)</tspan></text>
<path d="M355.98,1146.90 L355.94,1148.11 L355.91,1149.32 L355.91,1150.52 L355.92,1151.73 L355.95,1152.92 L356.00,1154.11 L356.06,1155.30 L356.14,1156.49 L356.24,1157.67 L356.35,1158.84 L356.48,1160.02 L356.62,1161.18 L356.78,1162.35 L356.96,1163.51 L357.15,1164.66 L357.35,1165.81 L357.57,1166.96 L357.81,1168.10 L358.06,1169.24 L358.32,1170.37 L358.60,1171.50 L358.90,1172.63 L359.20,1173.75 L359.52,1174.86 L359.86,1175.97 L360.21,1177.08 L360.57,1178.18 L360.94,1179.28 L361.33,1180.37 L361.73,1181.46 L362.15,1182.54 L362.57,1183.62 L363.01,1184.69 L363.46,1185.76 L363.93,1186.83 L364.40,1187.89 L364.89,1188.94 L365.38,1189.99 L365.89,1191.03 L366.41,1192.07 L366.95,1193.11 L367.49,1194.14 L368.04,1195.16 L368.61,1196.18 L369.18,1197.19 L369.77,1198.20 L370.36,1199.21 L370.97,1200.21 L371.58,1201.20 L372.21,1202.19 L372.84,1203.17 L373.48,1204.15 L374.13,1205.12 L374.80,1206.09 L375.47,1207.05 L376.14,1208.00 L376.83,1208.95 L377.53,1209.90 L378.23,1210.84 L378.94,1211.77 L379.66,1212.70 L380.39,1213.62 L381.13,1214.54 L381.87,1215.45 L382.62,1216.36 L383.38,1217.26 L384.14,1218.16 L384.91,1219.05 L385.69,1219.93 L386.47,1220.81 L387.26,1221.68 L388.06,1222.55 L388.86,1223.41 L389.67,1224.27 L390.49,1225.12 L391.31,1225.96 L392.14,1226.80 L392.97,1227.63 L393.80,1228.46 L394.65,1229.28 L395.49,1230.10 L396.34,1230.91 L397.20,1231.71 L398.06,1232.51 L398.93,1233.30 L399.80,1234.08 L400.68,1234.86 L401.56,1235.64 L402.45,1236.40 L403.34,1237.16 L404.24,1237.92 L405.14,1238.67 L406.05,1239.41 L406.96,1240.14 L407.88,1240.87 L408.80,1241.60 L409.72,1242.31 L410.65,1243.02 L411.59,1243.72 L412.52,1244.42 L413.47,1245.11 L414.41,1245.79 L415.37,1246.47 L416.32,1247.14 L417.28,1247.80 L418.25,1248.46 L419.22,1249.11 L420.19,1249.75 L421.17,1250.38 L422.15,1251.01 L423.14,1251.63 L424.13,1252.25 L425.12,1252.85 L426.12,1253.46 L427.12,1254.05 L428.12,1254.64 L429.13,1255.23 L430.14,1255.81 L431.15,1256.38 L432.17,1256.95 L433.19,1257.51 L434.22,1258.06 L435.24,1258.62 L436.27,1259.16 L437.30,1259.71 L438.34,1260.24 L439.38,1260.78 L440.42,1261.31 L441.46,1261.83 L442.50,1262.35 L443.55,1262.87 L444.60,1263.39 L445.65,1263.90 L446.70,1264.40 L447.76,1264.91 L448.81,1265.41 L449.87,1265.91 L450.93,1266.40 L451.99,1266.90 L453.06,1267.39 L454.12,1267.87 L455.19,1268.36 L456.25,1268.84 L457.32,1269.33 L458.39,1269.81 L459.46,1270.29 L460.53,1270.76 L461.60,1271.24 L462.67,1271.72 L463.74,1272.19 L464.82,1272.66 L465.89,1273.14 L466.96,1273.61 L468.04,1274.08 L469.11,1274.55 L470.18,1275.02 L471.26,1275.49 L472.33,1275.97 L473.40,1276.44 L474.47,1276.91 L475.55,1277.38 L476.62,1277.86 L477.69,1278.33 L478.76,1278.81 L479.83,1279.29 L480.90,1279.77 L481.97,1280.25 L483.03,1280.73 L484.10,1281.21 L485.16,1281.70 L486.22,1282.19 L487.29,1282.68 L488.35,1283.17 L489.40,1283.67 L490.46,1284.16 L491.52,1284.67 L492.57,1285.17 L493.62,1285.68 L494.67,1286.19 L495.72,1286.70 L496.76,1287.22 L497.80,1287.74 L498.84,1288.27 L499.88,1288.80 L500.91,1289.33 L501.95,1289.87 L502.98,1290.41 L504.00,1290.96 L505.03,1291.51 L506.05,1292.07 L507.06,1292.63 L508.08,1293.20 L509.09,1293.77 L510.10,1294.35 L511.10,1294.93 L512.10,1295.52 L513.10,1296.12 L514.09,1296.72 L515.08,1297.33" fill="none" stroke="#0a820a" stroke-width="2.20" stroke-linecap="round" stroke-linejoin="round" />
<path d="M355.57,1145.30 L355.57,1146.54 L355.58,1147.77 L355.62,1148.99 L355.67,1150.21 L355.74,1151.41 L355.83,1152.61 L355.94,1153.81 L356.07,1154.99 L356.22,1156.17 L356.38,1157.34 L356.57,1158.50 L356.77,1159.65 L356.98,1160.80 L357.22,1161.94 L357.47,1163.07 L357.74,1164.20 L358.02,1165.31 L358.32,1166.43 L358.64,1167.53 L358.97,1168.62 L359.32,1169.71 L359.69,1170.79 L360.07,1171.87 L360.46,1172.93 L360.87,1173.99 L361.30,1175.05 L361.74,1176.09 L362.19,1177.13 L362.66,1178.16 L363.15,1179.19 L363.64,1180.21 L364.15,1181.22 L364.68,1182.22 L365.21,1183.22 L365.76,1184.21 L366.33,1185.19 L366.90,1186.17 L367.49,1187.14 L368.09,1188.11 L368.70,1189.06 L369.33,1190.01 L369.97,1190.96 L370.61,1191.90 L371.27,1192.83 L371.94,1193.75 L372.63,1194.67 L373.32,1195.58 L374.02,1196.49 L374.73,1197.39 L375.46,1198.28 L376.19,1199.16 L376.93,1200.04 L377.69,1200.92 L378.45,1201.79 L379.22,1202.65 L380.00,1203.50 L380.79,1204.35 L381.58,1205.20 L382.39,1206.03 L383.21,1206.86 L384.03,1207.69 L384.86,1208.51 L385.70,1209.32 L386.54,1210.13 L387.39,1210.93 L388.25,1211.73 L389.12,1212.52 L389.99,1213.30 L390.87,1214.08 L391.76,1214.85 L392.65,1215.62 L393.55,1216.38 L394.45,1217.14 L395.36,1217.89 L396.27,1218.63 L397.19,1219.37 L398.12,1220.10 L399.04,1220.83 L399.98,1221.56 L400.92,1222.27 L401.86,1222.99 L402.80,1223.69 L403.75,1224.39 L404.71,1225.09 L405.66,1225.78 L406.62,1226.47 L407.58,1227.15 L408.55,1227.82 L409.52,1228.49 L410.49,1229.16 L411.46,1229.82 L412.43,1230.47 L413.41,1231.12 L414.39,1231.77 L415.37,1232.41 L416.35,1233.05 L417.33,1233.68 L418.32,1234.30 L419.30,1234.93 L420.29,1235.55 L421.28,1236.16 L422.27,1236.77 L423.26,1237.38 L424.25,1237.98 L425.25,1238.58 L426.24,1239.18 L427.24,1239.77 L428.24,1240.36 L429.24,1240.95 L430.24,1241.53 L431.24,1242.11 L432.24,1242.69 L433.25,1243.26 L434.25,1243.84 L435.26,1244.41 L436.26,1244.98 L437.27,1245.54 L438.28,1246.10 L439.29,1246.67 L440.29,1247.23 L441.30,1247.78 L442.31,1248.34 L443.33,1248.90 L444.34,1249.45 L445.35,1250.00 L446.36,1250.55 L447.37,1251.11 L448.39,1251.65 L449.40,1252.20 L450.41,1252.75 L451.43,1253.30 L452.44,1253.85 L453.45,1254.39 L454.47,1254.94 L455.48,1255.49 L456.49,1256.03 L457.51,1256.58 L458.52,1257.13 L459.54,1257.68 L460.55,1258.22 L461.56,1258.77 L462.58,1259.32 L463.59,1259.87 L464.60,1260.42 L465.61,1260.98 L466.62,1261.53 L467.63,1262.08 L468.64,1262.64 L469.65,1263.20 L470.66,1263.76 L471.67,1264.32 L472.68,1264.88 L473.69,1265.45 L474.69,1266.01 L475.70,1266.58 L476.70,1267.16 L477.71,1267.73 L478.71,1268.31 L479.71,1268.89 L480.71,1269.47 L481.71,1270.06 L482.71,1270.65 L483.71,1271.24 L484.71,1271.83 L485.70,1272.43 L486.69,1273.04 L487.68,1273.65 L488.66,1274.26 L489.64,1274.88 L490.62,1275.51 L491.59,1276.14 L492.56,1276.77 L493.52,1277.42 L494.48,1278.07 L495.43,1278.73 L496.38,1279.40 L497.31,1280.07 L498.25,1280.75 L499.17,1281.44 L500.09,1282.14 L500.99,1282.85 L501.89,1283.57 L502.78,1284.30 L503.67,1285.04 L504.54,1285.79 L505.40,1286.56 L506.25,1287.33 L507.09,1288.11 L507.92,1288.91 L508.74,1289.72 L509.55,1290.54 L510.35,1291.37 L511.13,1292.22 L511.90,1293.08 L512.65,1293.96 L513.40,1294.85 L514.13,1295.75 L514.84,1296.67 L515.54,1297.61" fill="none" stroke="#ff0000" stroke-width="2.20" stroke-linecap="round" stroke-linejoin="round" />
<path d="M514.90,1298.00 L514.96,1298.13 L515.02,1298.27 L515.07,1298.40 L515.12,1298.53 L515.17,1298.66 L515.21,1298.79 L515.25,1298.92 L515.29,1299.04 L515.32,1299.17 L515.35,1299.29 L515.38,1299.42 L515.41,1299.54 L515.43,1299.66 L515.45,1299.78 L515.46,1299.90 L515.48,1300.02 L515.49,1300.14 L515.49,1300.25 L515.50,1300.37 L515.50,1300.48 L515.50,1300.60 L515.49,1300.71 L515.49,1300.82 L515.48,1300.93 L515.47,1301.04 L515.45,1301.15 L515.44,1301.26 L515.42,1301.36 L515.39,1301.47 L515.37,1301.57 L515.34,1301.67 L515.31,1301.78 L515.28,1301.88 L515.24,1301.98 L515.21,1302.08 L515.17,1302.18 L515.13,1302.28 L515.08,1302.37 L515.04,1302.47 L514.99,1302.57 L514.94,1302.66 L514.89,1302.75 L514.83,1302.85 L514.77,1302.94 L514.71,1303.03 L514.65,1303.12 L514.59,1303.21 L514.52,1303.30 L514.46,1303.38 L514.39,1303.47 L514.32,1303.56 L514.24,1303.64 L514.17,1303.73 L514.09,1303.81 L514.01,1303.89 L513.93,1303.97 L513.85,1304.05 L513.77,1304.13 L513.68,1304.21 L513.60,1304.29 L513.51,1304.37 L513.42,1304.45 L513.32,1304.52 L513.23,1304.60 L513.14,1304.67 L513.04,1304.75 L512.94,1304.82 L512.84,1304.89 L512.74,1304.97 L512.64,1305.04 L512.54,1305.11 L512.43,1305.18 L512.32,1305.25 L512.22,1305.31 L512.11,1305.38 L512.00,1305.45 L511.89,1305.52 L511.78,1305.58 L511.66,1305.65 L511.55,1305.71 L511.43,1305.77 L511.32,1305.84 L511.20,1305.90 L511.08,1305.96 L510.96,1306.02 L510.84,1306.08 L510.72,1306.14 L510.60,1306.20 L510.47,1306.26 L510.35,1306.32 L510.23,1306.38 L510.10,1306.43 L509.97,1306.49 L509.85,1306.54 L509.72,1306.60 L509.59,1306.65 L509.46,1306.71 L509.33,1306.76 L509.20,1306.81 L509.07,1306.87 L508.94,1306.92 L508.81,1306.97 L508.68,1307.02 L508.55,1307.07 L508.41,1307.12 L508.28,1307.17 L508.15,1307.22 L508.01,1307.27 L507.88,1307.31 L507.75,1307.36 L507.61,1307.41 L507.48,1307.45 L507.34,1307.50 L507.21,1307.54 L507.07,1307.59 L506.94,1307.63 L506.80,1307.68 L506.67,1307.72 L506.53,1307.76 L506.40,1307.81 L506.26,1307.85 L506.13,1307.89 L505.99,1307.93 L505.86,1307.97 L505.73,1308.01 L505.59,1308.05 L505.46,1308.09 L505.32,1308.13 L505.19,1308.17 L505.06,1308.21 L504.93,1308.25 L504.79,1308.29 L504.66,1308.32 L504.53,1308.36 L504.40,1308.40 L504.27,1308.43 L504.14,1308.47 L504.01,1308.50 L503.88,1308.54 L503.75,1308.58 L503.63,1308.61 L503.50,1308.64 L503.37,1308.68 L503.25,1308.71 L503.12,1308.75 L503.00,1308.78 L502.88,1308.81 L502.75,1308.85 L502.63,1308.88 L502.51,1308.91 L502.39,1308.94 L502.27,1308.97 L502.16,1309.01 L502.04,1309.04 L501.92,1309.07 L501.81,1309.10 L501.70,1309.13 L501.58,1309.16 L501.47,1309.19 L501.36,1309.22 L501.25,1309.25 L501.15,1309.28 L501.04,1309.31 L500.94,1309.34 L500.83,1309.37 L500.73,1309.40 L500.63,1309.43 L500.53,1309.46 L500.43,1309.48 L500.34,1309.51 L500.24,1309.54 L500.15,1309.57 L500.05,1309.60 L499.96,1309.62 L499.88,1309.65 L499.79,1309.68 L499.70,1309.71 L499.62,1309.73 L499.54,1309.76 L499.46,1309.79 L499.38,1309.82 L499.30,1309.84 L499.23,1309.87 L499.15,1309.90 L499.08,1309.93 L499.01,1309.95 L498.95,1309.98 L498.88,1310.01 L498.82,1310.03 L498.76,1310.06 L498.70,1310.09 L498.64,1310.11 L498.58,1310.14 L498.53,1310.17 L498.48,1310.19 L498.43,1310.22 L498.39,1310.25 L498.34,1310.27 L498.30,1310.30" fill="none" stroke="#000" stroke-width="2.40" stroke-linecap="round" stroke-linejoin="round" />
<circle cx="355.60" cy="1134.60" r="1.55" fill="#0000ff"/>
<circle cx="355.87" cy="1132.28" r="1.55" fill="#0000ff"/>
<circle cx="356.27" cy="1129.96" r="1.55" fill="#0000ff"/>
<circle cx="356.73" cy="1127.64" r="1.55" fill="#0000ff"/>
<circle cx="357.25" cy="1125.32" r="1.55" fill="#0000ff"/>
<circle cx="357.80" cy="1123.00" r="1.55" fill="#0000ff"/>
<text x="392.00" y="1148.10" font-size="16.50" fill="#8a0cfb" text-anchor="start" ><tspan font-style="italic">R</tspan><tspan dx="-0.99" dy="5.12" font-size="11.88">S</tspan><tspan dy="-5.12"> &lt; </tspan><tspan font-style="italic">R</tspan><tspan dx="-0.99" dy="5.12" font-size="11.88">NDR</tspan></text>
<text x="392.00" y="1200.50" font-size="16.50" fill="#111" text-anchor="start" ><tspan>(</tspan><tspan fill="#ff1a1a">U</tspan><tspan fill="#ff1a1a">,</tspan><tspan fill="#3a8a3a">D</tspan><tspan>)</tspan></text>
</svg></body></html>
